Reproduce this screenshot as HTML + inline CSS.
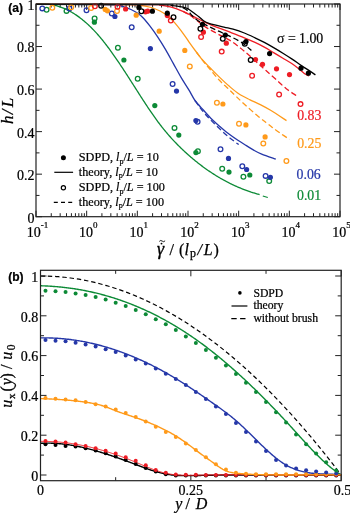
<!DOCTYPE html>
<html><head><meta charset="utf-8"><style>
html,body{margin:0;padding:0;background:#fff;width:350px;height:513px;overflow:hidden;font-family:"Liberation Serif",serif;}
svg{display:block;filter:blur(0.3px);}
</style></head><body>
<svg width="350" height="513" viewBox="0 0 350 513">
<rect width="350" height="513" fill="#fff"/>
<line x1="36" y1="216.7" x2="42" y2="216.7" stroke="#222222" stroke-width="1.0"/>
<line x1="340" y1="216.7" x2="334" y2="216.7" stroke="#222222" stroke-width="1.0"/>
<line x1="36" y1="195.43" x2="39.5" y2="195.43" stroke="#222222" stroke-width="1.0"/>
<line x1="340" y1="195.43" x2="336.5" y2="195.43" stroke="#222222" stroke-width="1.0"/>
<line x1="36" y1="174.16" x2="42" y2="174.16" stroke="#222222" stroke-width="1.0"/>
<line x1="340" y1="174.16" x2="334" y2="174.16" stroke="#222222" stroke-width="1.0"/>
<line x1="36" y1="152.89" x2="39.5" y2="152.89" stroke="#222222" stroke-width="1.0"/>
<line x1="340" y1="152.89" x2="336.5" y2="152.89" stroke="#222222" stroke-width="1.0"/>
<line x1="36" y1="131.62" x2="42" y2="131.62" stroke="#222222" stroke-width="1.0"/>
<line x1="340" y1="131.62" x2="334" y2="131.62" stroke="#222222" stroke-width="1.0"/>
<line x1="36" y1="110.35" x2="39.5" y2="110.35" stroke="#222222" stroke-width="1.0"/>
<line x1="340" y1="110.35" x2="336.5" y2="110.35" stroke="#222222" stroke-width="1.0"/>
<line x1="36" y1="89.08" x2="42" y2="89.08" stroke="#222222" stroke-width="1.0"/>
<line x1="340" y1="89.08" x2="334" y2="89.08" stroke="#222222" stroke-width="1.0"/>
<line x1="36" y1="67.81" x2="39.5" y2="67.81" stroke="#222222" stroke-width="1.0"/>
<line x1="340" y1="67.81" x2="336.5" y2="67.81" stroke="#222222" stroke-width="1.0"/>
<line x1="36" y1="46.54" x2="42" y2="46.54" stroke="#222222" stroke-width="1.0"/>
<line x1="340" y1="46.54" x2="334" y2="46.54" stroke="#222222" stroke-width="1.0"/>
<line x1="36" y1="25.27" x2="39.5" y2="25.27" stroke="#222222" stroke-width="1.0"/>
<line x1="340" y1="25.27" x2="336.5" y2="25.27" stroke="#222222" stroke-width="1.0"/>
<line x1="36" y1="4" x2="42" y2="4" stroke="#222222" stroke-width="1.0"/>
<line x1="340" y1="4" x2="334" y2="4" stroke="#222222" stroke-width="1.0"/>
<line x1="36" y1="216.7" x2="36" y2="210.7" stroke="#222222" stroke-width="1.0"/>
<line x1="36" y1="4" x2="36" y2="10" stroke="#222222" stroke-width="1.0"/>
<line x1="51.25" y1="216.7" x2="51.25" y2="213.2" stroke="#222222" stroke-width="1.0"/>
<line x1="51.25" y1="4" x2="51.25" y2="7.5" stroke="#222222" stroke-width="1.0"/>
<line x1="60.17" y1="216.7" x2="60.17" y2="213.2" stroke="#222222" stroke-width="1.0"/>
<line x1="60.17" y1="4" x2="60.17" y2="7.5" stroke="#222222" stroke-width="1.0"/>
<line x1="66.5" y1="216.7" x2="66.5" y2="213.2" stroke="#222222" stroke-width="1.0"/>
<line x1="66.5" y1="4" x2="66.5" y2="7.5" stroke="#222222" stroke-width="1.0"/>
<line x1="71.41" y1="216.7" x2="71.41" y2="213.2" stroke="#222222" stroke-width="1.0"/>
<line x1="71.41" y1="4" x2="71.41" y2="7.5" stroke="#222222" stroke-width="1.0"/>
<line x1="75.43" y1="216.7" x2="75.43" y2="213.2" stroke="#222222" stroke-width="1.0"/>
<line x1="75.43" y1="4" x2="75.43" y2="7.5" stroke="#222222" stroke-width="1.0"/>
<line x1="78.82" y1="216.7" x2="78.82" y2="213.2" stroke="#222222" stroke-width="1.0"/>
<line x1="78.82" y1="4" x2="78.82" y2="7.5" stroke="#222222" stroke-width="1.0"/>
<line x1="81.76" y1="216.7" x2="81.76" y2="213.2" stroke="#222222" stroke-width="1.0"/>
<line x1="81.76" y1="4" x2="81.76" y2="7.5" stroke="#222222" stroke-width="1.0"/>
<line x1="84.35" y1="216.7" x2="84.35" y2="213.2" stroke="#222222" stroke-width="1.0"/>
<line x1="84.35" y1="4" x2="84.35" y2="7.5" stroke="#222222" stroke-width="1.0"/>
<line x1="86.67" y1="216.7" x2="86.67" y2="210.7" stroke="#222222" stroke-width="1.0"/>
<line x1="86.67" y1="4" x2="86.67" y2="10" stroke="#222222" stroke-width="1.0"/>
<line x1="101.92" y1="216.7" x2="101.92" y2="213.2" stroke="#222222" stroke-width="1.0"/>
<line x1="101.92" y1="4" x2="101.92" y2="7.5" stroke="#222222" stroke-width="1.0"/>
<line x1="110.84" y1="216.7" x2="110.84" y2="213.2" stroke="#222222" stroke-width="1.0"/>
<line x1="110.84" y1="4" x2="110.84" y2="7.5" stroke="#222222" stroke-width="1.0"/>
<line x1="117.17" y1="216.7" x2="117.17" y2="213.2" stroke="#222222" stroke-width="1.0"/>
<line x1="117.17" y1="4" x2="117.17" y2="7.5" stroke="#222222" stroke-width="1.0"/>
<line x1="122.08" y1="216.7" x2="122.08" y2="213.2" stroke="#222222" stroke-width="1.0"/>
<line x1="122.08" y1="4" x2="122.08" y2="7.5" stroke="#222222" stroke-width="1.0"/>
<line x1="126.09" y1="216.7" x2="126.09" y2="213.2" stroke="#222222" stroke-width="1.0"/>
<line x1="126.09" y1="4" x2="126.09" y2="7.5" stroke="#222222" stroke-width="1.0"/>
<line x1="129.48" y1="216.7" x2="129.48" y2="213.2" stroke="#222222" stroke-width="1.0"/>
<line x1="129.48" y1="4" x2="129.48" y2="7.5" stroke="#222222" stroke-width="1.0"/>
<line x1="132.42" y1="216.7" x2="132.42" y2="213.2" stroke="#222222" stroke-width="1.0"/>
<line x1="132.42" y1="4" x2="132.42" y2="7.5" stroke="#222222" stroke-width="1.0"/>
<line x1="135.01" y1="216.7" x2="135.01" y2="213.2" stroke="#222222" stroke-width="1.0"/>
<line x1="135.01" y1="4" x2="135.01" y2="7.5" stroke="#222222" stroke-width="1.0"/>
<line x1="137.33" y1="216.7" x2="137.33" y2="210.7" stroke="#222222" stroke-width="1.0"/>
<line x1="137.33" y1="4" x2="137.33" y2="10" stroke="#222222" stroke-width="1.0"/>
<line x1="152.59" y1="216.7" x2="152.59" y2="213.2" stroke="#222222" stroke-width="1.0"/>
<line x1="152.59" y1="4" x2="152.59" y2="7.5" stroke="#222222" stroke-width="1.0"/>
<line x1="161.51" y1="216.7" x2="161.51" y2="213.2" stroke="#222222" stroke-width="1.0"/>
<line x1="161.51" y1="4" x2="161.51" y2="7.5" stroke="#222222" stroke-width="1.0"/>
<line x1="167.84" y1="216.7" x2="167.84" y2="213.2" stroke="#222222" stroke-width="1.0"/>
<line x1="167.84" y1="4" x2="167.84" y2="7.5" stroke="#222222" stroke-width="1.0"/>
<line x1="172.75" y1="216.7" x2="172.75" y2="213.2" stroke="#222222" stroke-width="1.0"/>
<line x1="172.75" y1="4" x2="172.75" y2="7.5" stroke="#222222" stroke-width="1.0"/>
<line x1="176.76" y1="216.7" x2="176.76" y2="213.2" stroke="#222222" stroke-width="1.0"/>
<line x1="176.76" y1="4" x2="176.76" y2="7.5" stroke="#222222" stroke-width="1.0"/>
<line x1="180.15" y1="216.7" x2="180.15" y2="213.2" stroke="#222222" stroke-width="1.0"/>
<line x1="180.15" y1="4" x2="180.15" y2="7.5" stroke="#222222" stroke-width="1.0"/>
<line x1="183.09" y1="216.7" x2="183.09" y2="213.2" stroke="#222222" stroke-width="1.0"/>
<line x1="183.09" y1="4" x2="183.09" y2="7.5" stroke="#222222" stroke-width="1.0"/>
<line x1="185.68" y1="216.7" x2="185.68" y2="213.2" stroke="#222222" stroke-width="1.0"/>
<line x1="185.68" y1="4" x2="185.68" y2="7.5" stroke="#222222" stroke-width="1.0"/>
<line x1="188" y1="216.7" x2="188" y2="210.7" stroke="#222222" stroke-width="1.0"/>
<line x1="188" y1="4" x2="188" y2="10" stroke="#222222" stroke-width="1.0"/>
<line x1="203.25" y1="216.7" x2="203.25" y2="213.2" stroke="#222222" stroke-width="1.0"/>
<line x1="203.25" y1="4" x2="203.25" y2="7.5" stroke="#222222" stroke-width="1.0"/>
<line x1="212.17" y1="216.7" x2="212.17" y2="213.2" stroke="#222222" stroke-width="1.0"/>
<line x1="212.17" y1="4" x2="212.17" y2="7.5" stroke="#222222" stroke-width="1.0"/>
<line x1="218.5" y1="216.7" x2="218.5" y2="213.2" stroke="#222222" stroke-width="1.0"/>
<line x1="218.5" y1="4" x2="218.5" y2="7.5" stroke="#222222" stroke-width="1.0"/>
<line x1="223.41" y1="216.7" x2="223.41" y2="213.2" stroke="#222222" stroke-width="1.0"/>
<line x1="223.41" y1="4" x2="223.41" y2="7.5" stroke="#222222" stroke-width="1.0"/>
<line x1="227.43" y1="216.7" x2="227.43" y2="213.2" stroke="#222222" stroke-width="1.0"/>
<line x1="227.43" y1="4" x2="227.43" y2="7.5" stroke="#222222" stroke-width="1.0"/>
<line x1="230.82" y1="216.7" x2="230.82" y2="213.2" stroke="#222222" stroke-width="1.0"/>
<line x1="230.82" y1="4" x2="230.82" y2="7.5" stroke="#222222" stroke-width="1.0"/>
<line x1="233.76" y1="216.7" x2="233.76" y2="213.2" stroke="#222222" stroke-width="1.0"/>
<line x1="233.76" y1="4" x2="233.76" y2="7.5" stroke="#222222" stroke-width="1.0"/>
<line x1="236.35" y1="216.7" x2="236.35" y2="213.2" stroke="#222222" stroke-width="1.0"/>
<line x1="236.35" y1="4" x2="236.35" y2="7.5" stroke="#222222" stroke-width="1.0"/>
<line x1="238.67" y1="216.7" x2="238.67" y2="210.7" stroke="#222222" stroke-width="1.0"/>
<line x1="238.67" y1="4" x2="238.67" y2="10" stroke="#222222" stroke-width="1.0"/>
<line x1="253.92" y1="216.7" x2="253.92" y2="213.2" stroke="#222222" stroke-width="1.0"/>
<line x1="253.92" y1="4" x2="253.92" y2="7.5" stroke="#222222" stroke-width="1.0"/>
<line x1="262.84" y1="216.7" x2="262.84" y2="213.2" stroke="#222222" stroke-width="1.0"/>
<line x1="262.84" y1="4" x2="262.84" y2="7.5" stroke="#222222" stroke-width="1.0"/>
<line x1="269.17" y1="216.7" x2="269.17" y2="213.2" stroke="#222222" stroke-width="1.0"/>
<line x1="269.17" y1="4" x2="269.17" y2="7.5" stroke="#222222" stroke-width="1.0"/>
<line x1="274.08" y1="216.7" x2="274.08" y2="213.2" stroke="#222222" stroke-width="1.0"/>
<line x1="274.08" y1="4" x2="274.08" y2="7.5" stroke="#222222" stroke-width="1.0"/>
<line x1="278.09" y1="216.7" x2="278.09" y2="213.2" stroke="#222222" stroke-width="1.0"/>
<line x1="278.09" y1="4" x2="278.09" y2="7.5" stroke="#222222" stroke-width="1.0"/>
<line x1="281.48" y1="216.7" x2="281.48" y2="213.2" stroke="#222222" stroke-width="1.0"/>
<line x1="281.48" y1="4" x2="281.48" y2="7.5" stroke="#222222" stroke-width="1.0"/>
<line x1="284.42" y1="216.7" x2="284.42" y2="213.2" stroke="#222222" stroke-width="1.0"/>
<line x1="284.42" y1="4" x2="284.42" y2="7.5" stroke="#222222" stroke-width="1.0"/>
<line x1="287.01" y1="216.7" x2="287.01" y2="213.2" stroke="#222222" stroke-width="1.0"/>
<line x1="287.01" y1="4" x2="287.01" y2="7.5" stroke="#222222" stroke-width="1.0"/>
<line x1="289.33" y1="216.7" x2="289.33" y2="210.7" stroke="#222222" stroke-width="1.0"/>
<line x1="289.33" y1="4" x2="289.33" y2="10" stroke="#222222" stroke-width="1.0"/>
<line x1="304.59" y1="216.7" x2="304.59" y2="213.2" stroke="#222222" stroke-width="1.0"/>
<line x1="304.59" y1="4" x2="304.59" y2="7.5" stroke="#222222" stroke-width="1.0"/>
<line x1="313.51" y1="216.7" x2="313.51" y2="213.2" stroke="#222222" stroke-width="1.0"/>
<line x1="313.51" y1="4" x2="313.51" y2="7.5" stroke="#222222" stroke-width="1.0"/>
<line x1="319.84" y1="216.7" x2="319.84" y2="213.2" stroke="#222222" stroke-width="1.0"/>
<line x1="319.84" y1="4" x2="319.84" y2="7.5" stroke="#222222" stroke-width="1.0"/>
<line x1="324.75" y1="216.7" x2="324.75" y2="213.2" stroke="#222222" stroke-width="1.0"/>
<line x1="324.75" y1="4" x2="324.75" y2="7.5" stroke="#222222" stroke-width="1.0"/>
<line x1="328.76" y1="216.7" x2="328.76" y2="213.2" stroke="#222222" stroke-width="1.0"/>
<line x1="328.76" y1="4" x2="328.76" y2="7.5" stroke="#222222" stroke-width="1.0"/>
<line x1="332.15" y1="216.7" x2="332.15" y2="213.2" stroke="#222222" stroke-width="1.0"/>
<line x1="332.15" y1="4" x2="332.15" y2="7.5" stroke="#222222" stroke-width="1.0"/>
<line x1="335.09" y1="216.7" x2="335.09" y2="213.2" stroke="#222222" stroke-width="1.0"/>
<line x1="335.09" y1="4" x2="335.09" y2="7.5" stroke="#222222" stroke-width="1.0"/>
<line x1="337.68" y1="216.7" x2="337.68" y2="213.2" stroke="#222222" stroke-width="1.0"/>
<line x1="337.68" y1="4" x2="337.68" y2="7.5" stroke="#222222" stroke-width="1.0"/>
<line x1="340" y1="216.7" x2="340" y2="210.7" stroke="#222222" stroke-width="1.0"/>
<line x1="340" y1="4" x2="340" y2="10" stroke="#222222" stroke-width="1.0"/>
<path d="M36,4.4 L36.7,4.31 L37.4,4.23 L38.1,4.16 L38.8,4.1 L39.5,4.05 L40.21,4 L40.91,3.97 L41.61,3.95 L42.31,3.93 L43.01,3.93 L43.71,3.94 L44.41,3.95 L45.11,3.98 L45.81,4.01 L46.51,4.06 L47.22,4.11 L47.92,4.18 L48.62,4.25 L49.32,4.34 L50.02,4.43 L50.72,4.53 L51.42,4.65 L52.12,4.77 L52.82,4.9 L53.52,5.05 L54.22,5.2 L54.93,5.36 L55.63,5.54 L56.33,5.72 L57.03,5.91 L57.73,6.12 L58.43,6.33 L59.13,6.55 L59.83,6.78 L60.53,7.03 L61.23,7.28 L61.93,7.54 L62.64,7.81 L63.34,8.1 L64.04,8.39 L64.74,8.69 L65.44,9 L66.14,9.33 L66.84,9.66 L67.54,10 L68.24,10.36 L68.94,10.72 L69.65,11.09 L70.35,11.48 L71.05,11.87 L71.75,12.27 L72.45,12.69 L73.15,13.11 L73.85,13.55 L74.55,13.99 L75.25,14.44 L75.95,14.91 L76.65,15.39 L77.36,15.87 L78.06,16.37 L78.76,16.87 L79.46,17.39 L80.16,17.92 L80.86,18.45 L81.56,19 L82.26,19.56 L82.96,20.13 L83.66,20.7 L84.36,21.29 L85.07,21.89 L85.77,22.5 L86.47,23.12 L87.17,23.75 L87.87,24.39 L88.57,25.04 L89.27,25.71 L89.97,26.38 L90.67,27.06 L91.37,27.75 L92.08,28.46 L92.78,29.17 L93.48,29.9 L94.18,30.63 L94.88,31.38 L95.58,32.13 L96.28,32.9 L96.98,33.68 L97.68,34.46 L98.38,35.26 L99.08,36.07 L99.79,36.89 L100.49,37.72 L101.19,38.56 L101.89,39.41 L102.59,40.28 L103.29,41.15 L103.99,42.03 L104.69,42.92 L105.39,43.82 L106.09,44.73 L106.79,45.65 L107.5,46.57 L108.2,47.51 L108.9,48.45 L109.6,49.4 L110.3,50.36 L111,51.33 L111.7,52.3 L112.4,53.28 L113.1,54.27 L113.8,55.27 L114.51,56.27 L115.21,57.28 L115.91,58.29 L116.61,59.31 L117.31,60.34 L118.01,61.37 L118.71,62.41 L119.41,63.45 L120.11,64.49 L120.81,65.55 L121.51,66.6 L122.22,67.66 L122.92,68.72 L123.62,69.79 L124.32,70.86 L125.02,71.94 L125.72,73.02 L126.42,74.1 L127.12,75.18 L127.82,76.27 L128.52,77.35 L129.23,78.45 L129.93,79.54 L130.63,80.63 L131.33,81.73 L132.03,82.82 L132.73,83.92 L133.43,85.02 L134.13,86.12 L134.83,87.22 L135.53,88.32 L136.23,89.42 L136.94,90.52 L137.64,91.62 L138.34,92.71 L139.04,93.81 L139.74,94.9 L140.44,95.99 L141.14,97.08 L141.84,98.17 L142.54,99.25 L143.24,100.33 L143.94,101.41 L144.65,102.48 L145.35,103.55 L146.05,104.62 L146.75,105.68 L147.45,106.74 L148.15,107.79 L148.85,108.83 L149.55,109.87 L150.25,110.91 L150.95,111.93 L151.66,112.95 L152.36,113.97 L153.06,114.97 L153.76,115.97 L154.46,116.97 L155.16,117.95 L155.86,118.93 L156.56,119.89 L157.26,120.85 L157.96,121.8 L158.66,122.74 L159.37,123.67 L160.07,124.59 L160.77,125.5 L161.47,126.4 L162.17,127.29 L162.87,128.17 L163.57,129.04 L164.27,129.91 L164.97,130.76 L165.67,131.61 L166.37,132.44 L167.08,133.27 L167.78,134.09 L168.48,134.9 L169.18,135.7 L169.88,136.5 L170.58,137.28 L171.28,138.06 L171.98,138.83 L172.68,139.6 L173.38,140.35 L174.09,141.1 L174.79,141.84 L175.49,142.57 L176.19,143.3 L176.89,144.02 L177.59,144.73 L178.29,145.44 L178.99,146.14 L179.69,146.83 L180.39,147.52 L181.09,148.2 L181.8,148.87 L182.5,149.54 L183.2,150.21 L183.9,150.86 L184.6,151.52 L185.3,152.16 L186,152.81 L186.7,153.44 L187.4,154.07 L188.1,154.7 L188.81,155.32 L189.51,155.93 L190.21,156.54 L190.91,157.15 L191.61,157.75 L192.31,158.34 L193.01,158.93 L193.71,159.52 L194.41,160.1 L195.11,160.67 L195.81,161.24 L196.52,161.8 L197.22,162.36 L197.92,162.92 L198.62,163.47 L199.32,164.01 L200.02,164.55 L200.72,165.08 L201.42,165.62 L202.12,166.14 L202.82,166.66 L203.52,167.18 L204.23,167.69 L204.93,168.19 L205.63,168.7 L206.33,169.19 L207.03,169.69 L207.73,170.17 L208.43,170.66 L209.13,171.14 L209.83,171.61 L210.53,172.08 L211.24,172.54 L211.94,173.01 L212.64,173.46 L213.34,173.91 L214.04,174.36 L214.74,174.8 L215.44,175.24 L216.14,175.68 L216.84,176.11 L217.54,176.53 L218.24,176.95 L218.95,177.37 L219.65,177.78 L220.35,178.19 L221.05,178.6 L221.75,179 L222.45,179.39 L223.15,179.78 L223.85,180.17 L224.55,180.55 L225.25,180.93 L225.95,181.3 L226.66,181.67 L227.36,182.04 L228.06,182.4 L228.76,182.76 L229.46,183.11 L230.16,183.46 L230.86,183.81 L231.56,184.15 L232.26,184.49 L232.96,184.82 L233.67,185.15 L234.37,185.47 L235.07,185.79 L235.77,186.11 L236.47,186.42 L237.17,186.73 L237.87,187.04 L238.57,187.34 L239.27,187.64 L239.97,187.93 L240.67,188.22 L241.38,188.5 L242.08,188.78 L242.78,189.06 L243.48,189.34 L244.18,189.61 L244.88,189.87 L245.58,190.13 L246.28,190.39 L246.98,190.65 L247.68,190.9 L248.38,191.14 L249.09,191.39 L249.79,191.63 L250.49,191.86 L251.19,192.1 L251.89,192.32 L252.59,192.55 L253.29,192.77 L253.99,192.99 L254.69,193.2 L255.39,193.41 L256.1,193.62 L256.8,193.82 L257.5,194.02 L258.2,194.22 L258.9,194.41 L259.6,194.6" fill="none" stroke="#0c8a36" stroke-width="1.3" stroke-linejoin="round"/>
<path d="M262.8,196 C263.63,196.25 266.97,197.25 267.8,197.5" fill="none" stroke="#0c8a36" stroke-width="1.3" stroke-linejoin="round"/>
<path d="M36,4.4 C47.5,4.42 91.5,4.4 105,4.5 C118.5,4.6 113.83,4.62 117,5 C120.17,5.38 121.67,6.05 124,6.8 C126.33,7.55 128.83,8.5 131,9.5 C133.17,10.5 135,11.42 137,12.8 C139,14.18 140.83,15.57 143,17.8 C145.17,20.03 147.53,22.98 150,26.2 C152.47,29.42 155.2,33.2 157.8,37.1 C160.4,41 163,45.18 165.6,49.6 C168.2,54.02 170.8,58.93 173.4,63.6 C176,68.27 178.6,73.18 181.2,77.6 C183.8,82.02 186.7,86.28 189,90.1 C191.3,93.92 192.57,97.13 195,100.5 C197.43,103.87 200.75,107.13 203.6,110.3 C206.45,113.47 209.25,116.68 212.1,119.5 C214.95,122.32 217.83,124.73 220.7,127.2 C223.57,129.67 226.43,132.12 229.3,134.3 C232.17,136.48 235.05,138.42 237.9,140.3 C240.75,142.18 243.7,143.92 246.4,145.6 C249.1,147.28 251.55,148.98 254.1,150.4 C256.65,151.82 258.08,152.63 261.7,154.1 C265.32,155.57 273.45,158.35 275.8,159.2" fill="none" stroke="#2537a8" stroke-width="1.3" stroke-linejoin="round"/>
<path d="M195,100.5 C195.83,101.67 198.28,105.22 200,107.5 C201.72,109.78 203.28,111.88 205.3,114.2 C207.32,116.52 209.53,118.8 212.1,121.4 C214.67,124 217.83,127.12 220.7,129.8 C223.57,132.48 226.3,135.03 229.3,137.5 C232.3,139.97 237.13,143.42 238.7,144.6" fill="none" stroke="#2537a8" stroke-width="1.3" stroke-dasharray="5.5,3" stroke-linejoin="round"/>
<path d="M36,4.4 C51.33,4.42 110.6,4.35 128,4.5 C145.4,4.65 136.48,4.8 140.4,5.3 C144.32,5.8 148.23,6.55 151.5,7.5 C154.77,8.45 157.58,9.78 160,11 C162.42,12.22 163.77,13.07 166,14.8 C168.23,16.53 170.87,18.72 173.4,21.4 C175.93,24.08 178.62,27.5 181.2,30.9 C183.78,34.3 186.32,38.2 188.9,41.8 C191.48,45.4 194.47,49.5 196.7,52.5 C198.93,55.5 200.08,57.27 202.3,59.8 C204.52,62.33 207.15,64.82 210,67.7 C212.85,70.58 216.12,73.95 219.4,77.1 C222.68,80.25 226.42,83.78 229.7,86.6 C232.98,89.42 235.72,91.8 239.1,94 C242.48,96.2 246.47,98.03 250,99.8 C253.53,101.57 256.87,102.85 260.3,104.6 C263.73,106.35 266.23,107.63 270.6,110.3 C274.97,112.97 283.85,118.88 286.5,120.6" fill="none" stroke="#ff9a1a" stroke-width="1.3" stroke-linejoin="round"/>
<path d="M196.7,52.5 C197.97,54.17 201.93,59.53 204.3,62.5 C206.67,65.47 208.38,67.33 210.9,70.3 C213.42,73.27 216.55,77.27 219.4,80.3 C222.25,83.33 225.13,85.73 228,88.5 C230.87,91.27 233.5,93.95 236.6,96.9 C239.7,99.85 243.12,103.05 246.6,106.2 C250.08,109.35 254.27,113.08 257.5,115.8 C260.73,118.52 263.53,120.57 266,122.5 C268.47,124.43 269.97,125.65 272.3,127.4 C274.63,129.15 277.15,131 280,133 C282.85,135 287.83,138.33 289.4,139.4" fill="none" stroke="#ff9a1a" stroke-width="1.3" stroke-dasharray="5.5,3" stroke-linejoin="round"/>
<path d="M36,4.4 C55,4.42 129.33,4.37 150,4.5 C170.67,4.63 156.43,4.75 160,5.2 C163.57,5.65 167.58,6.18 171.4,7.2 C175.22,8.22 179.08,9.68 182.9,11.3 C186.72,12.92 190.5,15.02 194.3,16.9 C198.1,18.78 201.9,20.87 205.7,22.6 C209.5,24.33 213.05,25.7 217.1,27.3 C221.15,28.9 225.47,30.45 230,32.2 C234.53,33.95 240.13,36.1 244.3,37.8 C248.47,39.5 251.67,40.85 255,42.4 C258.33,43.95 261.2,45.4 264.3,47.1 C267.4,48.8 270.5,50.75 273.6,52.6 C276.7,54.45 279.82,56.33 282.9,58.2 C285.98,60.07 289.32,61.93 292.1,63.8 C294.88,65.67 297.43,67.7 299.6,69.4 C301.77,71.1 303.53,72.92 305.1,74 C306.67,75.08 308.35,75.58 309,75.9" fill="none" stroke="#ee1c24" stroke-width="1.3" stroke-linejoin="round"/>
<path d="M182.9,11.3 C184.08,11.97 187.72,13.8 190,15.3 C192.28,16.8 193.98,18.33 196.6,20.3 C199.22,22.27 202.28,24.88 205.7,27.1 C209.12,29.32 213.05,31.38 217.1,33.6 C221.15,35.82 225.47,37.47 230,40.4 C234.53,43.33 239.53,47.27 244.3,51.2 C249.07,55.13 254.98,60.78 258.6,64 C262.22,67.22 263.18,68 266,70.5 C268.82,73 272.17,76 275.5,79 C278.83,82 282.5,85.72 286,88.5 C289.5,91.28 294.75,94.5 296.5,95.7" fill="none" stroke="#ee1c24" stroke-width="1.3" stroke-dasharray="5.5,3" stroke-linejoin="round"/>
<path d="M36,4.4 C56.67,4.45 137.43,4.55 160,4.7 C182.57,4.85 167.58,4.9 171.4,5.3 C175.22,5.7 180.13,6.52 182.9,7.1 C185.67,7.68 186.1,7.77 188,8.8 C189.9,9.83 192.48,11.98 194.3,13.3 C196.12,14.62 197.23,15.37 198.9,16.7 C200.57,18.03 202.5,20.15 204.3,21.3 C206.1,22.45 206.42,22.63 209.7,23.6 C212.98,24.57 220.1,26.17 224,27.1 C227.9,28.03 229.72,28.22 233.1,29.2 C236.48,30.18 240.65,31.57 244.3,33 C247.95,34.43 251.67,36.23 255,37.8 C258.33,39.37 261.2,40.77 264.3,42.4 C267.4,44.03 270.5,45.8 273.6,47.6 C276.7,49.4 279.82,51.28 282.9,53.2 C285.98,55.12 289.02,57.03 292.1,59.1 C295.18,61.17 298.3,63.52 301.4,65.6 C304.5,67.68 308.37,70.05 310.7,71.6 C313.03,73.15 314.62,74.35 315.4,74.9" fill="none" stroke="#000000" stroke-width="1.3" stroke-linejoin="round"/>
<path d="M182.9,7.7 C183.75,8.25 186.48,9.7 188,11 C189.52,12.3 190.5,14 192,15.5 C193.5,17 194.72,18.43 197,20 C199.28,21.57 202.35,23.15 205.7,24.9 C209.05,26.65 213.28,28.72 217.1,30.5 C220.92,32.28 225.02,33.9 228.6,35.6 C232.18,37.3 235.98,39.25 238.6,40.7 C241.22,42.15 242.17,42.67 244.3,44.3 C246.43,45.93 250.22,49.47 251.4,50.5" fill="none" stroke="#000000" stroke-width="1.3" stroke-dasharray="5.5,3" stroke-linejoin="round"/>
<circle cx="46.6" cy="9.7" r="2.35" fill="none" stroke="#0c8a36" stroke-width="1.3"/>
<circle cx="66.5" cy="10.9" r="2.35" fill="none" stroke="#0c8a36" stroke-width="1.3"/>
<circle cx="94.6" cy="18.4" r="2.35" fill="none" stroke="#0c8a36" stroke-width="1.3"/>
<circle cx="94.4" cy="22.2" r="2.6" fill="#0c8a36"/>
<circle cx="117.9" cy="47.7" r="2.35" fill="none" stroke="#0c8a36" stroke-width="1.3"/>
<circle cx="123.9" cy="60" r="2.6" fill="#0c8a36"/>
<circle cx="137.7" cy="78.8" r="2.35" fill="none" stroke="#0c8a36" stroke-width="1.3"/>
<circle cx="154.8" cy="105.6" r="2.6" fill="#0c8a36"/>
<circle cx="174.5" cy="127.9" r="2.35" fill="none" stroke="#0c8a36" stroke-width="1.3"/>
<circle cx="178.8" cy="135.1" r="2.6" fill="#0c8a36"/>
<circle cx="197.9" cy="151.2" r="2.35" fill="none" stroke="#0c8a36" stroke-width="1.3"/>
<circle cx="195.9" cy="152.6" r="2.6" fill="#0c8a36"/>
<circle cx="222.2" cy="168.7" r="2.35" fill="none" stroke="#0c8a36" stroke-width="1.3"/>
<circle cx="229" cy="172.1" r="2.6" fill="#0c8a36"/>
<circle cx="243.4" cy="176.7" r="2.35" fill="none" stroke="#0c8a36" stroke-width="1.3"/>
<circle cx="249.8" cy="175" r="2.6" fill="#0c8a36"/>
<circle cx="269.2" cy="181.1" r="2.35" fill="none" stroke="#0c8a36" stroke-width="1.3"/>
<circle cx="42.3" cy="8.4" r="2.35" fill="none" stroke="#2537a8" stroke-width="1.3"/>
<circle cx="69.4" cy="8.4" r="2.35" fill="none" stroke="#2537a8" stroke-width="1.3"/>
<circle cx="86.5" cy="10.3" r="2.35" fill="none" stroke="#2537a8" stroke-width="1.3"/>
<circle cx="111.8" cy="13.5" r="2.35" fill="none" stroke="#2537a8" stroke-width="1.3"/>
<circle cx="114.9" cy="16.5" r="2.6" fill="#2537a8"/>
<circle cx="131.7" cy="27.3" r="2.35" fill="none" stroke="#2537a8" stroke-width="1.3"/>
<circle cx="150.4" cy="48.6" r="2.6" fill="#2537a8"/>
<circle cx="172.6" cy="84" r="2.35" fill="none" stroke="#2537a8" stroke-width="1.3"/>
<circle cx="176.5" cy="91.1" r="2.6" fill="#2537a8"/>
<circle cx="195.9" cy="120.5" r="2.6" fill="#2537a8"/>
<circle cx="197.6" cy="121.8" r="2.35" fill="none" stroke="#2537a8" stroke-width="1.3"/>
<circle cx="220.5" cy="149.2" r="2.35" fill="none" stroke="#2537a8" stroke-width="1.3"/>
<circle cx="228.5" cy="158.4" r="2.6" fill="#2537a8"/>
<circle cx="242.3" cy="166.2" r="2.35" fill="none" stroke="#2537a8" stroke-width="1.3"/>
<circle cx="246.6" cy="169.5" r="2.6" fill="#2537a8"/>
<circle cx="265.6" cy="175.9" r="2.35" fill="none" stroke="#2537a8" stroke-width="1.3"/>
<circle cx="270.4" cy="177.3" r="2.6" fill="#2537a8"/>
<circle cx="52.3" cy="7.8" r="2.35" fill="none" stroke="#ff9a1a" stroke-width="1.3"/>
<circle cx="71.2" cy="7.2" r="2.35" fill="none" stroke="#ff9a1a" stroke-width="1.3"/>
<circle cx="91.1" cy="8" r="2.35" fill="none" stroke="#ff9a1a" stroke-width="1.3"/>
<circle cx="105.2" cy="9.4" r="2.6" fill="#ff9a1a"/>
<circle cx="107.4" cy="10.8" r="2.6" fill="#ff9a1a"/>
<circle cx="117" cy="11" r="2.35" fill="none" stroke="#ff9a1a" stroke-width="1.3"/>
<circle cx="136.2" cy="15.2" r="2.6" fill="#ff9a1a"/>
<circle cx="159.2" cy="31.2" r="2.6" fill="#ff9a1a"/>
<circle cx="184.8" cy="50.4" r="2.6" fill="#ff9a1a"/>
<circle cx="189.8" cy="66.4" r="2.35" fill="none" stroke="#ff9a1a" stroke-width="1.3"/>
<circle cx="216.9" cy="102.8" r="2.35" fill="none" stroke="#ff9a1a" stroke-width="1.3"/>
<circle cx="222.9" cy="104" r="2.6" fill="#ff9a1a"/>
<circle cx="239" cy="123.8" r="2.35" fill="none" stroke="#ff9a1a" stroke-width="1.3"/>
<circle cx="245.9" cy="124.9" r="2.6" fill="#ff9a1a"/>
<circle cx="265.1" cy="136.9" r="2.6" fill="#ff9a1a"/>
<circle cx="263.3" cy="143.5" r="2.35" fill="none" stroke="#ff9a1a" stroke-width="1.3"/>
<circle cx="286.4" cy="161" r="2.35" fill="none" stroke="#ff9a1a" stroke-width="1.3"/>
<circle cx="94.9" cy="6.2" r="2.35" fill="none" stroke="#ee1c24" stroke-width="1.3"/>
<circle cx="117.5" cy="6.8" r="2.35" fill="none" stroke="#ee1c24" stroke-width="1.3"/>
<circle cx="125.6" cy="9" r="2.6" fill="#ee1c24"/>
<circle cx="145.5" cy="11.8" r="2.6" fill="#ee1c24"/>
<circle cx="147.7" cy="11.2" r="2.6" fill="#ee1c24"/>
<circle cx="167.3" cy="15.6" r="2.6" fill="#ee1c24"/>
<circle cx="170.8" cy="20.6" r="2.35" fill="none" stroke="#ee1c24" stroke-width="1.3"/>
<circle cx="203.4" cy="32.2" r="2.6" fill="#ee1c24"/>
<circle cx="201.1" cy="37" r="2.35" fill="none" stroke="#ee1c24" stroke-width="1.3"/>
<circle cx="226.3" cy="43.2" r="2.6" fill="#ee1c24"/>
<circle cx="221.7" cy="51.6" r="2.35" fill="none" stroke="#ee1c24" stroke-width="1.3"/>
<circle cx="255.5" cy="59.5" r="2.6" fill="#ee1c24"/>
<circle cx="262.5" cy="64.3" r="2.6" fill="#ee1c24"/>
<circle cx="252.1" cy="75.8" r="2.35" fill="none" stroke="#ee1c24" stroke-width="1.3"/>
<circle cx="276.5" cy="68.8" r="2.6" fill="#ee1c24"/>
<circle cx="279.1" cy="94.5" r="2.35" fill="none" stroke="#ee1c24" stroke-width="1.3"/>
<circle cx="289.5" cy="74.6" r="2.6" fill="#ee1c24"/>
<circle cx="300.5" cy="104.1" r="2.35" fill="none" stroke="#ee1c24" stroke-width="1.3"/>
<circle cx="101.1" cy="5.8" r="2.35" fill="none" stroke="#000000" stroke-width="1.3"/>
<circle cx="139" cy="7.3" r="2.6" fill="#000000"/>
<circle cx="141.4" cy="11.2" r="2.35" fill="none" stroke="#000000" stroke-width="1.3"/>
<circle cx="152.4" cy="11.2" r="2.6" fill="#000000"/>
<circle cx="167.3" cy="13.2" r="2.6" fill="#000000"/>
<circle cx="173.5" cy="17.2" r="2.35" fill="none" stroke="#000000" stroke-width="1.3"/>
<circle cx="202.5" cy="24.3" r="2.6" fill="#000000"/>
<circle cx="200.4" cy="28.8" r="2.35" fill="none" stroke="#000000" stroke-width="1.3"/>
<circle cx="225.3" cy="35" r="2.6" fill="#000000"/>
<circle cx="222.8" cy="38.7" r="2.35" fill="none" stroke="#000000" stroke-width="1.3"/>
<circle cx="244.8" cy="43.8" r="2.35" fill="none" stroke="#000000" stroke-width="1.3"/>
<circle cx="246" cy="41.5" r="2.6" fill="#000000"/>
<circle cx="250.7" cy="60" r="2.35" fill="none" stroke="#000000" stroke-width="1.3"/>
<circle cx="269.6" cy="53.6" r="2.6" fill="#000000"/>
<circle cx="301" cy="68.2" r="2.6" fill="#000000"/>
<circle cx="308.4" cy="73.2" r="2.6" fill="#000000"/>
<rect x="36.0" y="4.0" width="304.0" height="212.7" fill="none" stroke="#222222" stroke-width="1.2"/>
<text x="34.6" y="222.6" font-size="14" text-anchor="end" fill="#000" font-family='"Liberation Serif", serif' stroke="#000" stroke-width="0.22">0</text>
<text x="34.6" y="180.06" font-size="14" text-anchor="end" fill="#000" font-family='"Liberation Serif", serif' stroke="#000" stroke-width="0.22">0.2</text>
<text x="34.6" y="137.52" font-size="14" text-anchor="end" fill="#000" font-family='"Liberation Serif", serif' stroke="#000" stroke-width="0.22">0.4</text>
<text x="34.6" y="94.98" font-size="14" text-anchor="end" fill="#000" font-family='"Liberation Serif", serif' stroke="#000" stroke-width="0.22">0.6</text>
<text x="34.6" y="52.44" font-size="14" text-anchor="end" fill="#000" font-family='"Liberation Serif", serif' stroke="#000" stroke-width="0.22">0.8</text>
<text x="34.6" y="9.9" font-size="14" text-anchor="end" fill="#000" font-family='"Liberation Serif", serif' stroke="#000" stroke-width="0.22">1</text>
<text x="37.5" y="236.8" font-size="14" text-anchor="middle" font-family='"Liberation Serif", serif' stroke="#000" stroke-width="0.22">10<tspan font-size="9" dy="-9.3">-1</tspan></text>
<text x="88.17" y="236.8" font-size="14" text-anchor="middle" font-family='"Liberation Serif", serif' stroke="#000" stroke-width="0.22">10<tspan font-size="9" dy="-9.3">0</tspan></text>
<text x="138.83" y="236.8" font-size="14" text-anchor="middle" font-family='"Liberation Serif", serif' stroke="#000" stroke-width="0.22">10<tspan font-size="9" dy="-9.3">1</tspan></text>
<text x="189.5" y="236.8" font-size="14" text-anchor="middle" font-family='"Liberation Serif", serif' stroke="#000" stroke-width="0.22">10<tspan font-size="9" dy="-9.3">2</tspan></text>
<text x="240.17" y="236.8" font-size="14" text-anchor="middle" font-family='"Liberation Serif", serif' stroke="#000" stroke-width="0.22">10<tspan font-size="9" dy="-9.3">3</tspan></text>
<text x="290.83" y="236.8" font-size="14" text-anchor="middle" font-family='"Liberation Serif", serif' stroke="#000" stroke-width="0.22">10<tspan font-size="9" dy="-9.3">4</tspan></text>
<text x="341.5" y="236.8" font-size="14" text-anchor="middle" font-family='"Liberation Serif", serif' stroke="#000" stroke-width="0.22">10<tspan font-size="9" dy="-9.3">5</tspan></text>
<text x="277" y="43.2" font-size="13.8" text-anchor="start" fill="#000" font-family='"Liberation Serif", serif' stroke="#000" stroke-width="0.22">&#963; = 1.00</text>
<text x="297.2" y="120.3" font-size="13.8" text-anchor="start" fill="#ee1c24" font-family='"Liberation Serif", serif' stroke="#ee1c24" stroke-width="0.22">0.83</text>
<text x="297.2" y="148.2" font-size="13.8" text-anchor="start" fill="#ff9a1a" font-family='"Liberation Serif", serif' stroke="#ff9a1a" stroke-width="0.22">0.25</text>
<text x="296.6" y="179.4" font-size="13.8" text-anchor="start" fill="#2537a8" font-family='"Liberation Serif", serif' stroke="#2537a8" stroke-width="0.22">0.06</text>
<text x="297" y="200.3" font-size="13.8" text-anchor="start" fill="#0c8a36" font-family='"Liberation Serif", serif' stroke="#0c8a36" stroke-width="0.22">0.01</text>
<circle cx="63.4" cy="157.7" r="2.5" fill="#000000"/>
<line x1="54.3" y1="172.3" x2="73.1" y2="172.3" stroke="#000000" stroke-width="1.2"/>
<circle cx="63.4" cy="187.7" r="2.1" fill="none" stroke="#000000" stroke-width="1.2"/>
<line x1="53.8" y1="202.3" x2="73.3" y2="202.3" stroke="#000" stroke-width="1.2" stroke-dasharray="4,3.2"/>
<text x="78.8" y="161.3" font-size="12.2" text-anchor="start" fill="#000" font-family='"Liberation Serif", serif' stroke="#000" stroke-width="0.22">SDPD, <tspan font-style="italic">l</tspan><tspan font-size="8" dy="2.5">p</tspan><tspan dy="-2.5">/</tspan><tspan font-style="italic">L</tspan> = 10</text>
<text x="78.8" y="175.8" font-size="12.2" text-anchor="start" fill="#000" font-family='"Liberation Serif", serif' stroke="#000" stroke-width="0.22">theory, <tspan font-style="italic">l</tspan><tspan font-size="8" dy="2.5">p</tspan><tspan dy="-2.5">/</tspan><tspan font-style="italic">L</tspan> = 10</text>
<text x="78.8" y="191.3" font-size="12.2" text-anchor="start" fill="#000" font-family='"Liberation Serif", serif' stroke="#000" stroke-width="0.22">SDPD, <tspan font-style="italic">l</tspan><tspan font-size="8" dy="2.5">p</tspan><tspan dy="-2.5">/</tspan><tspan font-style="italic">L</tspan> = 100</text>
<text x="78.8" y="205.8" font-size="12.2" text-anchor="start" fill="#000" font-family='"Liberation Serif", serif' stroke="#000" stroke-width="0.22">theory, <tspan font-style="italic">l</tspan><tspan font-size="8" dy="2.5">p</tspan><tspan dy="-2.5">/</tspan><tspan font-style="italic">L</tspan> = 100</text>
<text transform="translate(12.6,124) rotate(-90)" font-size="17" font-family='"Liberation Serif", serif' font-style="italic" stroke="#000" stroke-width="0.25"><tspan x="0" y="0">h</tspan><tspan x="9.8">/</tspan><tspan x="16.8">L</tspan></text>
<text x="157" y="254.5" font-size="18" font-style="italic" font-family='"Liberation Serif", serif' stroke="#000" stroke-width="0.35">&#947;</text>
<circle cx="161.5" cy="243.6" r="0.95" fill="#000"/>
<path d="M159.3,241.4 q1.4,-1.7 2.9,-0.3 t2.9,-0.3" fill="none" stroke="#000" stroke-width="0.9"/>
<text y="254.5" font-size="16" font-family='"Liberation Serif", serif' stroke="#000" stroke-width="0.25"><tspan x="169.4">/</tspan><tspan x="178.9">(</tspan><tspan x="184.4" font-style="italic">l</tspan><tspan x="190" y="257" font-size="12">p</tspan><tspan x="197.4" y="254.5" font-style="italic">/</tspan><tspan x="203.7" font-style="italic">L</tspan><tspan x="213.5">)</tspan></text>
<text x="8.3" y="12.4" font-size="12" text-anchor="start" fill="#000" font-family='"Liberation Sans", sans-serif' stroke="#000" stroke-width="0.22" font-weight="bold">(a)</text>
<line x1="40.5" y1="475" x2="46.5" y2="475" stroke="#222222" stroke-width="1.0"/>
<line x1="341.2" y1="475" x2="335.2" y2="475" stroke="#222222" stroke-width="1.0"/>
<line x1="40.5" y1="455.1" x2="44" y2="455.1" stroke="#222222" stroke-width="1.0"/>
<line x1="341.2" y1="455.1" x2="337.7" y2="455.1" stroke="#222222" stroke-width="1.0"/>
<line x1="40.5" y1="435.2" x2="46.5" y2="435.2" stroke="#222222" stroke-width="1.0"/>
<line x1="341.2" y1="435.2" x2="335.2" y2="435.2" stroke="#222222" stroke-width="1.0"/>
<line x1="40.5" y1="415.3" x2="44" y2="415.3" stroke="#222222" stroke-width="1.0"/>
<line x1="341.2" y1="415.3" x2="337.7" y2="415.3" stroke="#222222" stroke-width="1.0"/>
<line x1="40.5" y1="395.4" x2="46.5" y2="395.4" stroke="#222222" stroke-width="1.0"/>
<line x1="341.2" y1="395.4" x2="335.2" y2="395.4" stroke="#222222" stroke-width="1.0"/>
<line x1="40.5" y1="375.5" x2="44" y2="375.5" stroke="#222222" stroke-width="1.0"/>
<line x1="341.2" y1="375.5" x2="337.7" y2="375.5" stroke="#222222" stroke-width="1.0"/>
<line x1="40.5" y1="355.6" x2="46.5" y2="355.6" stroke="#222222" stroke-width="1.0"/>
<line x1="341.2" y1="355.6" x2="335.2" y2="355.6" stroke="#222222" stroke-width="1.0"/>
<line x1="40.5" y1="335.7" x2="44" y2="335.7" stroke="#222222" stroke-width="1.0"/>
<line x1="341.2" y1="335.7" x2="337.7" y2="335.7" stroke="#222222" stroke-width="1.0"/>
<line x1="40.5" y1="315.8" x2="46.5" y2="315.8" stroke="#222222" stroke-width="1.0"/>
<line x1="341.2" y1="315.8" x2="335.2" y2="315.8" stroke="#222222" stroke-width="1.0"/>
<line x1="40.5" y1="295.9" x2="44" y2="295.9" stroke="#222222" stroke-width="1.0"/>
<line x1="341.2" y1="295.9" x2="337.7" y2="295.9" stroke="#222222" stroke-width="1.0"/>
<line x1="40.5" y1="276" x2="46.5" y2="276" stroke="#222222" stroke-width="1.0"/>
<line x1="341.2" y1="276" x2="335.2" y2="276" stroke="#222222" stroke-width="1.0"/>
<line x1="40.5" y1="480.7" x2="40.5" y2="474.7" stroke="#222222" stroke-width="1.0"/>
<line x1="40.5" y1="270.3" x2="40.5" y2="276.3" stroke="#222222" stroke-width="1.0"/>
<line x1="115.67" y1="480.7" x2="115.67" y2="477.2" stroke="#222222" stroke-width="1.0"/>
<line x1="115.67" y1="270.3" x2="115.67" y2="273.8" stroke="#222222" stroke-width="1.0"/>
<line x1="190.85" y1="480.7" x2="190.85" y2="474.7" stroke="#222222" stroke-width="1.0"/>
<line x1="190.85" y1="270.3" x2="190.85" y2="276.3" stroke="#222222" stroke-width="1.0"/>
<line x1="266.02" y1="480.7" x2="266.02" y2="477.2" stroke="#222222" stroke-width="1.0"/>
<line x1="266.02" y1="270.3" x2="266.02" y2="273.8" stroke="#222222" stroke-width="1.0"/>
<line x1="341.2" y1="480.7" x2="341.2" y2="474.7" stroke="#222222" stroke-width="1.0"/>
<line x1="341.2" y1="270.3" x2="341.2" y2="276.3" stroke="#222222" stroke-width="1.0"/>
<path d="M40.5,276 C41.5,276.01 44.51,276.03 46.51,276.08 C48.52,276.13 50.52,276.21 52.53,276.32 C54.53,276.42 56.54,276.56 58.54,276.72 C60.55,276.88 62.55,277.06 64.56,277.27 C66.56,277.49 68.57,277.72 70.57,277.99 C72.57,278.26 74.58,278.55 76.58,278.87 C78.59,279.18 80.59,279.53 82.6,279.9 C84.6,280.27 86.61,280.67 88.61,281.09 C90.62,281.52 92.62,281.97 94.63,282.45 C96.63,282.93 98.64,283.43 100.64,283.96 C102.64,284.49 104.65,285.05 106.65,285.63 C108.66,286.22 110.66,286.83 112.67,287.46 C114.67,288.1 116.68,288.76 118.68,289.45 C120.69,290.14 122.69,290.86 124.7,291.6 C126.7,292.34 128.71,293.11 130.71,293.91 C132.71,294.71 134.72,295.53 136.72,296.38 C138.73,297.23 140.73,298.1 142.74,299 C144.74,299.91 146.75,300.84 148.75,301.79 C150.76,302.75 152.76,303.73 154.77,304.74 C156.77,305.74 158.78,306.78 160.78,307.84 C162.78,308.9 164.79,309.99 166.79,311.1 C168.8,312.22 170.8,313.36 172.81,314.53 C174.81,315.69 176.82,316.89 178.82,318.11 C180.83,319.33 182.83,320.58 184.84,321.85 C186.84,323.12 188.85,324.42 190.85,325.75 C192.85,327.08 194.86,328.43 196.86,329.81 C198.87,331.19 200.87,332.6 202.88,334.03 C204.88,335.46 206.89,336.92 208.89,338.41 C210.9,339.89 212.9,341.4 214.91,342.94 C216.91,344.48 218.92,346.05 220.92,347.64 C222.92,349.23 224.93,350.85 226.93,352.5 C228.94,354.14 230.94,355.81 232.95,357.51 C234.95,359.21 236.96,360.93 238.96,362.68 C240.97,364.44 242.97,366.21 244.98,368.02 C246.98,369.82 248.99,371.65 250.99,373.51 C252.99,375.37 255,377.25 257,379.16 C259.01,381.07 261.01,383.01 263.02,384.97 C265.02,386.94 267.03,388.93 269.03,390.94 C271.04,392.96 273.04,395 275.05,397.07 C277.05,399.14 279.06,401.24 281.06,403.36 C283.06,405.48 285.07,407.63 287.07,409.81 C289.08,411.98 291.08,414.19 293.09,416.41 C295.09,418.64 297.1,420.9 299.1,423.18 C301.11,425.46 303.11,427.77 305.12,430.11 C307.12,432.44 309.13,434.8 311.13,437.19 C313.13,439.58 315.14,441.99 317.14,444.43 C319.15,446.87 321.15,449.34 323.16,451.84 C325.16,454.33 327.17,456.85 329.17,459.4 C331.18,461.95 333.18,464.52 335.19,467.12 C337.19,469.72 340.2,473.69 341.2,475" fill="none" stroke="#000000" stroke-width="1.2" stroke-dasharray="4.4,2.9" stroke-linejoin="round"/>
<path d="M40.5,285.79 L41.5,285.82 L42.5,285.85 L43.51,285.88 L44.51,285.92 L45.51,285.96 L46.51,286.01 L47.51,286.06 L48.51,286.11 L49.52,286.17 L50.52,286.23 L51.52,286.29 L52.52,286.36 L53.52,286.43 L54.52,286.5 L55.52,286.58 L56.53,286.66 L57.53,286.75 L58.53,286.84 L59.53,286.93 L60.53,287.03 L61.53,287.13 L62.54,287.24 L63.54,287.35 L64.54,287.46 L65.54,287.58 L66.54,287.7 L67.55,287.83 L68.55,287.95 L69.55,288.09 L70.55,288.22 L71.55,288.36 L72.55,288.51 L73.56,288.66 L74.56,288.81 L75.56,288.97 L76.56,289.13 L77.56,289.29 L78.56,289.46 L79.56,289.63 L80.57,289.81 L81.57,289.99 L82.57,290.17 L83.57,290.36 L84.57,290.55 L85.58,290.75 L86.58,290.95 L87.58,291.16 L88.58,291.36 L89.58,291.58 L90.58,291.79 L91.59,292.02 L92.59,292.24 L93.59,292.47 L94.59,292.7 L95.59,292.94 L96.59,293.18 L97.59,293.43 L98.6,293.68 L99.6,293.94 L100.6,294.19 L101.6,294.46 L102.6,294.72 L103.61,295 L104.61,295.27 L105.61,295.55 L106.61,295.84 L107.61,296.12 L108.61,296.42 L109.62,296.71 L110.62,297.02 L111.62,297.32 L112.62,297.63 L113.62,297.95 L114.62,298.27 L115.62,298.59 L116.63,298.92 L117.63,299.25 L118.63,299.58 L119.63,299.92 L120.63,300.27 L121.64,300.62 L122.64,300.97 L123.64,301.33 L124.64,301.69 L125.64,302.06 L126.64,302.43 L127.65,302.81 L128.65,303.19 L129.65,303.57 L130.65,303.96 L131.65,304.36 L132.65,304.76 L133.66,305.16 L134.66,305.57 L135.66,305.98 L136.66,306.39 L137.66,306.82 L138.66,307.24 L139.67,307.67 L140.67,308.11 L141.67,308.55 L142.67,308.99 L143.67,309.44 L144.67,309.89 L145.68,310.35 L146.68,310.81 L147.68,311.28 L148.68,311.75 L149.68,312.23 L150.68,312.71 L151.69,313.2 L152.69,313.69 L153.69,314.18 L154.69,314.68 L155.69,315.19 L156.69,315.7 L157.69,316.21 L158.7,316.73 L159.7,317.25 L160.7,317.78 L161.7,318.32 L162.7,318.85 L163.7,319.4 L164.71,319.94 L165.71,320.5 L166.71,321.05 L167.71,321.62 L168.71,322.18 L169.72,322.76 L170.72,323.33 L171.72,323.92 L172.72,324.5 L173.72,325.09 L174.72,325.69 L175.72,326.29 L176.73,326.9 L177.73,327.51 L178.73,328.12 L179.73,328.75 L180.73,329.37 L181.74,330 L182.74,330.64 L183.74,331.28 L184.74,331.93 L185.74,332.58 L186.74,333.23 L187.75,333.89 L188.75,334.56 L189.75,335.23 L190.75,335.91 L191.75,336.59 L192.75,337.28 L193.75,337.97 L194.76,338.66 L195.76,339.37 L196.76,340.07 L197.76,340.78 L198.76,341.5 L199.77,342.22 L200.77,342.95 L201.77,343.68 L202.77,344.42 L203.77,345.16 L204.77,345.91 L205.78,346.67 L206.78,347.42 L207.78,348.19 L208.78,348.96 L209.78,349.73 L210.78,350.51 L211.78,351.29 L212.79,352.08 L213.79,352.87 L214.79,353.67 L215.79,354.47 L216.79,355.28 L217.8,356.1 L218.8,356.91 L219.8,357.74 L220.8,358.56 L221.8,359.39 L222.8,360.23 L223.81,361.07 L224.81,361.92 L225.81,362.77 L226.81,363.62 L227.81,364.48 L228.81,365.35 L229.81,366.22 L230.82,367.09 L231.82,367.97 L232.82,368.85 L233.82,369.74 L234.82,370.63 L235.83,371.52 L236.83,372.42 L237.83,373.33 L238.83,374.24 L239.83,375.15 L240.83,376.06 L241.84,376.99 L242.84,377.91 L243.84,378.84 L244.84,379.77 L245.84,380.71 L246.84,381.65 L247.84,382.6 L248.85,383.55 L249.85,384.5 L250.85,385.46 L251.85,386.42 L252.85,387.39 L253.86,388.36 L254.86,389.33 L255.86,390.31 L256.86,391.29 L257.86,392.27 L258.86,393.26 L259.87,394.26 L260.87,395.25 L261.87,396.25 L262.87,397.26 L263.87,398.26 L264.87,399.27 L265.88,400.29 L266.88,401.31 L267.88,402.33 L268.88,403.35 L269.88,404.38 L270.88,405.41 L271.88,406.45 L272.89,407.49 L273.89,408.53 L274.89,409.58 L275.89,410.62 L276.89,411.68 L277.89,412.73 L278.9,413.79 L279.9,414.85 L280.9,415.92 L281.9,416.99 L282.9,418.06 L283.9,419.13 L284.91,420.21 L285.91,421.29 L286.91,422.38 L287.91,423.46 L288.91,424.55 L289.92,425.65 L290.92,426.74 L291.92,427.84 L292.92,428.94 L293.92,430.05 L294.92,431.15 L295.93,432.26 L296.93,433.37 L297.93,434.47 L298.93,435.58 L299.93,436.69 L300.93,437.79 L301.94,438.89 L302.94,439.99 L303.94,441.09 L304.94,442.18 L305.94,443.27 L306.94,444.35 L307.94,445.43 L308.95,446.51 L309.95,447.58 L310.95,448.64 L311.95,449.69 L312.95,450.74 L313.95,451.77 L314.96,452.8 L315.96,453.82 L316.96,454.83 L317.96,455.83 L318.96,456.82 L319.97,457.8 L320.97,458.77 L321.97,459.72 L322.97,460.66 L323.97,461.59 L324.97,462.5 L325.98,463.4 L326.98,464.29 L327.98,465.16 L328.98,466.01 L329.98,466.85 L330.98,467.67 L331.99,468.47 L332.99,469.25 L333.99,470.02 L334.99,470.76 L335.99,471.49 L336.99,472.2 L338,472.88 L339,473.55 L340,474.19 L341,474.81" fill="none" stroke="#0c8a36" stroke-width="1.4" stroke-linejoin="round"/>
<path d="M40.5,337.9 L41.5,337.89 L42.5,337.88 L43.51,337.87 L44.51,337.87 L45.51,337.87 L46.51,337.88 L47.51,337.9 L48.51,337.91 L49.52,337.94 L50.52,337.97 L51.52,338 L52.52,338.04 L53.52,338.08 L54.52,338.13 L55.52,338.18 L56.53,338.24 L57.53,338.3 L58.53,338.37 L59.53,338.44 L60.53,338.52 L61.53,338.6 L62.54,338.69 L63.54,338.78 L64.54,338.88 L65.54,338.98 L66.54,339.08 L67.55,339.2 L68.55,339.31 L69.55,339.43 L70.55,339.56 L71.55,339.69 L72.55,339.82 L73.56,339.96 L74.56,340.11 L75.56,340.26 L76.56,340.41 L77.56,340.57 L78.56,340.73 L79.56,340.9 L80.57,341.07 L81.57,341.25 L82.57,341.43 L83.57,341.62 L84.57,341.81 L85.58,342.01 L86.58,342.21 L87.58,342.42 L88.58,342.63 L89.58,342.85 L90.58,343.07 L91.59,343.29 L92.59,343.52 L93.59,343.76 L94.59,343.99 L95.59,344.24 L96.59,344.49 L97.59,344.74 L98.6,345 L99.6,345.26 L100.6,345.53 L101.6,345.8 L102.6,346.08 L103.61,346.36 L104.61,346.64 L105.61,346.93 L106.61,347.23 L107.61,347.53 L108.61,347.83 L109.62,348.14 L110.62,348.46 L111.62,348.77 L112.62,349.1 L113.62,349.43 L114.62,349.76 L115.62,350.09 L116.63,350.44 L117.63,350.78 L118.63,351.13 L119.63,351.49 L120.63,351.85 L121.64,352.21 L122.64,352.58 L123.64,352.95 L124.64,353.33 L125.64,353.71 L126.64,354.1 L127.65,354.49 L128.65,354.89 L129.65,355.29 L130.65,355.69 L131.65,356.1 L132.65,356.52 L133.66,356.94 L134.66,357.36 L135.66,357.79 L136.66,358.22 L137.66,358.66 L138.66,359.1 L139.67,359.54 L140.67,360 L141.67,360.45 L142.67,360.91 L143.67,361.37 L144.67,361.84 L145.68,362.31 L146.68,362.79 L147.68,363.27 L148.68,363.76 L149.68,364.25 L150.68,364.74 L151.69,365.24 L152.69,365.75 L153.69,366.26 L154.69,366.77 L155.69,367.29 L156.69,367.81 L157.69,368.33 L158.7,368.86 L159.7,369.4 L160.7,369.94 L161.7,370.48 L162.7,371.03 L163.7,371.58 L164.71,372.14 L165.71,372.7 L166.71,373.26 L167.71,373.83 L168.71,374.41 L169.72,374.99 L170.72,375.57 L171.72,376.16 L172.72,376.75 L173.72,377.35 L174.72,377.95 L175.72,378.55 L176.73,379.16 L177.73,379.77 L178.73,380.39 L179.73,381.01 L180.73,381.63 L181.74,382.26 L182.74,382.89 L183.74,383.53 L184.74,384.17 L185.74,384.81 L186.74,385.45 L187.75,386.1 L188.75,386.75 L189.75,387.41 L190.75,388.06 L191.75,388.72 L192.75,389.39 L193.75,390.05 L194.76,390.72 L195.76,391.39 L196.76,392.07 L197.76,392.74 L198.76,393.42 L199.77,394.1 L200.77,394.78 L201.77,395.47 L202.77,396.15 L203.77,396.84 L204.77,397.53 L205.78,398.22 L206.78,398.92 L207.78,399.61 L208.78,400.31 L209.78,401.01 L210.78,401.71 L211.78,402.41 L212.79,403.11 L213.79,403.81 L214.79,404.51 L215.79,405.22 L216.79,405.92 L217.8,406.63 L218.8,407.34 L219.8,408.05 L220.8,408.77 L221.8,409.49 L222.8,410.21 L223.81,410.95 L224.81,411.69 L225.81,412.43 L226.81,413.19 L227.81,413.95 L228.81,414.72 L229.81,415.51 L230.82,416.3 L231.82,417.11 L232.82,417.93 L233.82,418.76 L234.82,419.61 L235.83,420.47 L236.83,421.35 L237.83,422.24 L238.83,423.14 L239.83,424.05 L240.83,424.97 L241.84,425.9 L242.84,426.84 L243.84,427.79 L244.84,428.74 L245.84,429.7 L246.84,430.67 L247.84,431.64 L248.85,432.62 L249.85,433.6 L250.85,434.59 L251.85,435.57 L252.85,436.56 L253.86,437.55 L254.86,438.54 L255.86,439.53 L256.86,440.51 L257.86,441.5 L258.86,442.48 L259.87,443.45 L260.87,444.43 L261.87,445.39 L262.87,446.36 L263.87,447.31 L264.87,448.26 L265.88,449.2 L266.88,450.13 L267.88,451.05 L268.88,451.95 L269.88,452.85 L270.88,453.74 L271.88,454.61 L272.89,455.47 L273.89,456.32 L274.89,457.14 L275.89,457.96 L276.89,458.75 L277.89,459.53 L278.9,460.28 L279.9,461.01 L280.9,461.73 L281.9,462.42 L282.9,463.08 L283.9,463.72 L284.91,464.34 L285.91,464.93 L286.91,465.49 L287.91,466.04 L288.91,466.55 L289.92,467.05 L290.92,467.52 L291.92,467.97 L292.92,468.4 L293.92,468.81 L294.92,469.19 L295.93,469.56 L296.93,469.91 L297.93,470.24 L298.93,470.55 L299.93,470.84 L300.93,471.12 L301.94,471.38 L302.94,471.62 L303.94,471.85 L304.94,472.07 L305.94,472.27 L306.94,472.45 L307.94,472.63 L308.95,472.79 L309.95,472.94 L310.95,473.07 L311.95,473.2 L312.95,473.31 L313.95,473.42 L314.96,473.52 L315.96,473.61 L316.96,473.69 L317.96,473.76 L318.96,473.82 L319.97,473.88 L320.97,473.93 L321.97,473.98 L322.97,474.02 L323.97,474.06 L324.97,474.1 L325.98,474.13 L326.98,474.16 L327.98,474.18 L328.98,474.21 L329.98,474.23 L330.98,474.26 L331.99,474.28 L332.99,474.31 L333.99,474.33 L334.99,474.36 L335.99,474.39 L336.99,474.42 L338,474.46 L339,474.5 L340,474.55 L341,474.6" fill="none" stroke="#2537a8" stroke-width="1.4" stroke-linejoin="round"/>
<path d="M40.5,443.3 L41.5,443.25 L42.5,443.21 L43.51,443.18 L44.51,443.15 L45.51,443.14 L46.51,443.13 L47.51,443.13 L48.51,443.13 L49.52,443.15 L50.52,443.17 L51.52,443.2 L52.52,443.23 L53.52,443.28 L54.52,443.33 L55.52,443.39 L56.53,443.45 L57.53,443.53 L58.53,443.61 L59.53,443.69 L60.53,443.79 L61.53,443.89 L62.54,443.99 L63.54,444.11 L64.54,444.23 L65.54,444.35 L66.54,444.49 L67.55,444.62 L68.55,444.77 L69.55,444.92 L70.55,445.08 L71.55,445.24 L72.55,445.41 L73.56,445.59 L74.56,445.77 L75.56,445.95 L76.56,446.14 L77.56,446.34 L78.56,446.54 L79.56,446.75 L80.57,446.96 L81.57,447.18 L82.57,447.41 L83.57,447.63 L84.57,447.87 L85.58,448.11 L86.58,448.35 L87.58,448.6 L88.58,448.85 L89.58,449.11 L90.58,449.37 L91.59,449.63 L92.59,449.9 L93.59,450.18 L94.59,450.46 L95.59,450.74 L96.59,451.03 L97.59,451.32 L98.6,451.61 L99.6,451.91 L100.6,452.21 L101.6,452.51 L102.6,452.82 L103.61,453.14 L104.61,453.45 L105.61,453.77 L106.61,454.09 L107.61,454.42 L108.61,454.75 L109.62,455.08 L110.62,455.41 L111.62,455.75 L112.62,456.09 L113.62,456.43 L114.62,456.77 L115.62,457.12 L116.63,457.47 L117.63,457.82 L118.63,458.18 L119.63,458.54 L120.63,458.89 L121.64,459.25 L122.64,459.62 L123.64,459.98 L124.64,460.35 L125.64,460.72 L126.64,461.09 L127.65,461.46 L128.65,461.83 L129.65,462.2 L130.65,462.58 L131.65,462.96 L132.65,463.34 L133.66,463.71 L134.66,464.09 L135.66,464.48 L136.66,464.86 L137.66,465.24 L138.66,465.62 L139.67,466 L140.67,466.38 L141.67,466.75 L142.67,467.13 L143.67,467.5 L144.67,467.86 L145.68,468.23 L146.68,468.59 L147.68,468.94 L148.68,469.29 L149.68,469.64 L150.68,469.98 L151.69,470.31 L152.69,470.63 L153.69,470.95 L154.69,471.26 L155.69,471.57 L156.69,471.86 L157.69,472.14 L158.7,472.42 L159.7,472.68 L160.7,472.94 L161.7,473.18 L162.7,473.41 L163.7,473.63 L164.71,473.84 L165.71,474.03 L166.71,474.22 L167.71,474.38 L168.71,474.54 L169.72,474.68 L170.72,474.82 L171.72,474.94 L172.72,475.04 L173.72,475.14 L174.72,475.23 L175.72,475.31 L176.73,475.38 L177.73,475.44 L178.73,475.49 L179.73,475.54 L180.73,475.57 L181.74,475.6 L182.74,475.63 L183.74,475.65 L184.74,475.66 L185.74,475.66 L186.74,475.67 L187.75,475.66 L188.75,475.66 L189.75,475.65 L190.75,475.64 L191.75,475.62 L192.75,475.61 L193.75,475.59 L194.76,475.57 L195.76,475.55 L196.76,475.53 L197.76,475.5 L198.76,475.48 L199.77,475.46 L200.77,475.43 L201.77,475.41 L202.77,475.39 L203.77,475.36 L204.77,475.34 L205.78,475.32 L206.78,475.3 L207.78,475.28 L208.78,475.26 L209.78,475.24 L210.78,475.22 L211.78,475.2 L212.79,475.19 L213.79,475.17 L214.79,475.15 L215.79,475.14 L216.79,475.13 L217.8,475.11 L218.8,475.1 L219.8,475.09 L220.8,475.07 L221.8,475.06 L222.8,475.05 L223.81,475.04 L224.81,475.03 L225.81,475.02 L226.81,475.02 L227.81,475.01 L228.81,475 L229.81,474.99 L230.82,474.99 L231.82,474.98 L232.82,474.97 L233.82,474.97 L234.82,474.97 L235.83,474.96 L236.83,474.96 L237.83,474.95 L238.83,474.95 L239.83,474.95 L240.83,474.95 L241.84,474.95 L242.84,474.94 L243.84,474.94 L244.84,474.94 L245.84,474.94 L246.84,474.94 L247.84,474.94 L248.85,474.94 L249.85,474.94 L250.85,474.95 L251.85,474.95 L252.85,474.95 L253.86,474.95 L254.86,474.95 L255.86,474.96 L256.86,474.96 L257.86,474.96 L258.86,474.97 L259.87,474.97 L260.87,474.97 L261.87,474.98 L262.87,474.98 L263.87,474.99 L264.87,474.99 L265.88,475 L266.88,475 L267.88,475.01 L268.88,475.01 L269.88,475.02 L270.88,475.02 L271.88,475.03 L272.89,475.03 L273.89,475.04 L274.89,475.05 L275.89,475.05 L276.89,475.06 L277.89,475.06 L278.9,475.07 L279.9,475.08 L280.9,475.08 L281.9,475.09 L282.9,475.09 L283.9,475.1 L284.91,475.11 L285.91,475.11 L286.91,475.12 L287.91,475.12 L288.91,475.13 L289.92,475.13 L290.92,475.14 L291.92,475.15 L292.92,475.15 L293.92,475.16 L294.92,475.16 L295.93,475.17 L296.93,475.17 L297.93,475.18 L298.93,475.18 L299.93,475.18 L300.93,475.19 L301.94,475.19 L302.94,475.2 L303.94,475.2 L304.94,475.2 L305.94,475.21 L306.94,475.21 L307.94,475.21 L308.95,475.21 L309.95,475.22 L310.95,475.22 L311.95,475.22 L312.95,475.22 L313.95,475.22 L314.96,475.22 L315.96,475.22 L316.96,475.22 L317.96,475.22 L318.96,475.22 L319.97,475.22 L320.97,475.22 L321.97,475.22 L322.97,475.22 L323.97,475.21 L324.97,475.21 L325.98,475.21 L326.98,475.2 L327.98,475.2 L328.98,475.19 L329.98,475.19 L330.98,475.18 L331.99,475.18 L332.99,475.17 L333.99,475.16 L334.99,475.16 L335.99,475.15 L336.99,475.14 L338,475.13 L339,475.12 L340,475.11 L341,475.1" fill="none" stroke="#000000" stroke-width="1.4" stroke-linejoin="round"/>
<path d="M40.5,441.4 L41.5,441.39 L42.5,441.38 L43.51,441.38 L44.51,441.39 L45.51,441.4 L46.51,441.42 L47.51,441.44 L48.51,441.46 L49.52,441.5 L50.52,441.53 L51.52,441.58 L52.52,441.63 L53.52,441.68 L54.52,441.74 L55.52,441.8 L56.53,441.87 L57.53,441.95 L58.53,442.03 L59.53,442.11 L60.53,442.2 L61.53,442.3 L62.54,442.4 L63.54,442.51 L64.54,442.62 L65.54,442.73 L66.54,442.86 L67.55,442.98 L68.55,443.11 L69.55,443.25 L70.55,443.39 L71.55,443.54 L72.55,443.69 L73.56,443.84 L74.56,444 L75.56,444.17 L76.56,444.34 L77.56,444.52 L78.56,444.7 L79.56,444.88 L80.57,445.07 L81.57,445.27 L82.57,445.47 L83.57,445.67 L84.57,445.88 L85.58,446.09 L86.58,446.31 L87.58,446.53 L88.58,446.76 L89.58,446.99 L90.58,447.23 L91.59,447.47 L92.59,447.71 L93.59,447.96 L94.59,448.21 L95.59,448.47 L96.59,448.74 L97.59,449 L98.6,449.27 L99.6,449.55 L100.6,449.83 L101.6,450.12 L102.6,450.4 L103.61,450.7 L104.61,450.99 L105.61,451.3 L106.61,451.6 L107.61,451.91 L108.61,452.23 L109.62,452.54 L110.62,452.87 L111.62,453.19 L112.62,453.52 L113.62,453.86 L114.62,454.2 L115.62,454.54 L116.63,454.88 L117.63,455.23 L118.63,455.59 L119.63,455.95 L120.63,456.31 L121.64,456.67 L122.64,457.04 L123.64,457.42 L124.64,457.79 L125.64,458.18 L126.64,458.56 L127.65,458.95 L128.65,459.34 L129.65,459.74 L130.65,460.14 L131.65,460.54 L132.65,460.95 L133.66,461.36 L134.66,461.77 L135.66,462.19 L136.66,462.61 L137.66,463.03 L138.66,463.46 L139.67,463.88 L140.67,464.31 L141.67,464.73 L142.67,465.15 L143.67,465.58 L144.67,466 L145.68,466.41 L146.68,466.83 L147.68,467.24 L148.68,467.64 L149.68,468.04 L150.68,468.44 L151.69,468.83 L152.69,469.21 L153.69,469.58 L154.69,469.95 L155.69,470.31 L156.69,470.65 L157.69,470.99 L158.7,471.32 L159.7,471.63 L160.7,471.94 L161.7,472.23 L162.7,472.51 L163.7,472.77 L164.71,473.02 L165.71,473.26 L166.71,473.48 L167.71,473.68 L168.71,473.87 L169.72,474.04 L170.72,474.2 L171.72,474.35 L172.72,474.49 L173.72,474.61 L174.72,474.72 L175.72,474.82 L176.73,474.9 L177.73,474.98 L178.73,475.05 L179.73,475.11 L180.73,475.16 L181.74,475.2 L182.74,475.23 L183.74,475.26 L184.74,475.28 L185.74,475.29 L186.74,475.3 L187.75,475.31 L188.75,475.31 L189.75,475.3 L190.75,475.29 L191.75,475.28 L192.75,475.27 L193.75,475.25 L194.76,475.24 L195.76,475.22 L196.76,475.2 L197.76,475.18 L198.76,475.16 L199.77,475.14 L200.77,475.12 L201.77,475.09 L202.77,475.07 L203.77,475.05 L204.77,475.03 L205.78,475.01 L206.78,474.99 L207.78,474.97 L208.78,474.95 L209.78,474.93 L210.78,474.92 L211.78,474.9 L212.79,474.89 L213.79,474.87 L214.79,474.86 L215.79,474.84 L216.79,474.83 L217.8,474.82 L218.8,474.8 L219.8,474.79 L220.8,474.78 L221.8,474.77 L222.8,474.76 L223.81,474.75 L224.81,474.74 L225.81,474.73 L226.81,474.73 L227.81,474.72 L228.81,474.71 L229.81,474.7 L230.82,474.7 L231.82,474.69 L232.82,474.69 L233.82,474.68 L234.82,474.68 L235.83,474.67 L236.83,474.67 L237.83,474.67 L238.83,474.67 L239.83,474.66 L240.83,474.66 L241.84,474.66 L242.84,474.66 L243.84,474.66 L244.84,474.66 L245.84,474.66 L246.84,474.66 L247.84,474.66 L248.85,474.66 L249.85,474.66 L250.85,474.66 L251.85,474.66 L252.85,474.66 L253.86,474.67 L254.86,474.67 L255.86,474.67 L256.86,474.67 L257.86,474.68 L258.86,474.68 L259.87,474.68 L260.87,474.69 L261.87,474.69 L262.87,474.69 L263.87,474.7 L264.87,474.7 L265.88,474.71 L266.88,474.71 L267.88,474.71 L268.88,474.72 L269.88,474.72 L270.88,474.73 L271.88,474.73 L272.89,474.74 L273.89,474.74 L274.89,474.75 L275.89,474.76 L276.89,474.76 L277.89,474.77 L278.9,474.77 L279.9,474.78 L280.9,474.78 L281.9,474.79 L282.9,474.79 L283.9,474.8 L284.91,474.8 L285.91,474.81 L286.91,474.82 L287.91,474.82 L288.91,474.83 L289.92,474.83 L290.92,474.84 L291.92,474.84 L292.92,474.85 L293.92,474.85 L294.92,474.86 L295.93,474.86 L296.93,474.87 L297.93,474.87 L298.93,474.87 L299.93,474.88 L300.93,474.88 L301.94,474.89 L302.94,474.89 L303.94,474.89 L304.94,474.9 L305.94,474.9 L306.94,474.9 L307.94,474.9 L308.95,474.91 L309.95,474.91 L310.95,474.91 L311.95,474.91 L312.95,474.91 L313.95,474.91 L314.96,474.91 L315.96,474.91 L316.96,474.91 L317.96,474.91 L318.96,474.91 L319.97,474.91 L320.97,474.91 L321.97,474.91 L322.97,474.91 L323.97,474.9 L324.97,474.9 L325.98,474.9 L326.98,474.89 L327.98,474.89 L328.98,474.89 L329.98,474.88 L330.98,474.88 L331.99,474.87 L332.99,474.86 L333.99,474.86 L334.99,474.85 L335.99,474.84 L336.99,474.84 L338,474.83 L339,474.82 L340,474.81 L341,474.8" fill="none" stroke="#ee1c24" stroke-width="1.0" stroke-linejoin="round"/>
<path d="M40.5,398.6 L41.5,398.63 L42.5,398.67 L43.51,398.71 L44.51,398.75 L45.51,398.78 L46.51,398.83 L47.51,398.87 L48.51,398.91 L49.52,398.96 L50.52,399 L51.52,399.05 L52.52,399.1 L53.52,399.16 L54.52,399.21 L55.52,399.27 L56.53,399.32 L57.53,399.38 L58.53,399.45 L59.53,399.51 L60.53,399.58 L61.53,399.65 L62.54,399.72 L63.54,399.79 L64.54,399.87 L65.54,399.95 L66.54,400.03 L67.55,400.11 L68.55,400.2 L69.55,400.29 L70.55,400.38 L71.55,400.48 L72.55,400.58 L73.56,400.68 L74.56,400.78 L75.56,400.89 L76.56,401 L77.56,401.11 L78.56,401.23 L79.56,401.35 L80.57,401.48 L81.57,401.61 L82.57,401.74 L83.57,401.87 L84.57,402.01 L85.58,402.15 L86.58,402.3 L87.58,402.45 L88.58,402.61 L89.58,402.78 L90.58,402.95 L91.59,403.13 L92.59,403.32 L93.59,403.52 L94.59,403.72 L95.59,403.94 L96.59,404.17 L97.59,404.4 L98.6,404.65 L99.6,404.91 L100.6,405.19 L101.6,405.48 L102.6,405.78 L103.61,406.09 L104.61,406.42 L105.61,406.77 L106.61,407.13 L107.61,407.51 L108.61,407.9 L109.62,408.3 L110.62,408.71 L111.62,409.12 L112.62,409.54 L113.62,409.95 L114.62,410.35 L115.62,410.75 L116.63,411.13 L117.63,411.51 L118.63,411.88 L119.63,412.24 L120.63,412.59 L121.64,412.94 L122.64,413.29 L123.64,413.62 L124.64,413.96 L125.64,414.29 L126.64,414.62 L127.65,414.95 L128.65,415.27 L129.65,415.6 L130.65,415.93 L131.65,416.25 L132.65,416.58 L133.66,416.92 L134.66,417.25 L135.66,417.59 L136.66,417.94 L137.66,418.29 L138.66,418.64 L139.67,419.01 L140.67,419.38 L141.67,419.75 L142.67,420.13 L143.67,420.52 L144.67,420.91 L145.68,421.31 L146.68,421.71 L147.68,422.11 L148.68,422.52 L149.68,422.94 L150.68,423.35 L151.69,423.78 L152.69,424.2 L153.69,424.63 L154.69,425.07 L155.69,425.51 L156.69,425.96 L157.69,426.41 L158.7,426.87 L159.7,427.34 L160.7,427.81 L161.7,428.29 L162.7,428.77 L163.7,429.27 L164.71,429.77 L165.71,430.28 L166.71,430.8 L167.71,431.33 L168.71,431.86 L169.72,432.41 L170.72,432.97 L171.72,433.53 L172.72,434.11 L173.72,434.69 L174.72,435.29 L175.72,435.9 L176.73,436.52 L177.73,437.15 L178.73,437.79 L179.73,438.45 L180.73,439.12 L181.74,439.8 L182.74,440.49 L183.74,441.19 L184.74,441.9 L185.74,442.62 L186.74,443.34 L187.75,444.08 L188.75,444.82 L189.75,445.56 L190.75,446.31 L191.75,447.06 L192.75,447.81 L193.75,448.57 L194.76,449.33 L195.76,450.08 L196.76,450.84 L197.76,451.59 L198.76,452.34 L199.77,453.09 L200.77,453.83 L201.77,454.56 L202.77,455.29 L203.77,456.02 L204.77,456.74 L205.78,457.45 L206.78,458.16 L207.78,458.87 L208.78,459.57 L209.78,460.28 L210.78,460.99 L211.78,461.7 L212.79,462.42 L213.79,463.14 L214.79,463.87 L215.79,464.61 L216.79,465.34 L217.8,466.06 L218.8,466.77 L219.8,467.46 L220.8,468.11 L221.8,468.73 L222.8,469.31 L223.81,469.84 L224.81,470.32 L225.81,470.76 L226.81,471.15 L227.81,471.51 L228.81,471.82 L229.81,472.09 L230.82,472.34 L231.82,472.55 L232.82,472.74 L233.82,472.9 L234.82,473.05 L235.83,473.17 L236.83,473.28 L237.83,473.38 L238.83,473.47 L239.83,473.56 L240.83,473.64 L241.84,473.72 L242.84,473.8 L243.84,473.87 L244.84,473.94 L245.84,474.01 L246.84,474.07 L247.84,474.13 L248.85,474.19 L249.85,474.24 L250.85,474.29 L251.85,474.34 L252.85,474.39 L253.86,474.43 L254.86,474.47 L255.86,474.51 L256.86,474.55 L257.86,474.58 L258.86,474.61 L259.87,474.64 L260.87,474.67 L261.87,474.7 L262.87,474.72 L263.87,474.75 L264.87,474.77 L265.88,474.79 L266.88,474.81 L267.88,474.82 L268.88,474.84 L269.88,474.85 L270.88,474.86 L271.88,474.88 L272.89,474.89 L273.89,474.9 L274.89,474.91 L275.89,474.91 L276.89,474.92 L277.89,474.93 L278.9,474.93 L279.9,474.94 L280.9,474.95 L281.9,474.95 L282.9,474.95 L283.9,474.96 L284.91,474.96 L285.91,474.96 L286.91,474.96 L287.91,474.96 L288.91,474.96 L289.92,474.96 L290.92,474.96 L291.92,474.96 L292.92,474.96 L293.92,474.96 L294.92,474.95 L295.93,474.95 L296.93,474.95 L297.93,474.95 L298.93,474.94 L299.93,474.94 L300.93,474.94 L301.94,474.93 L302.94,474.93 L303.94,474.92 L304.94,474.92 L305.94,474.92 L306.94,474.91 L307.94,474.91 L308.95,474.9 L309.95,474.9 L310.95,474.89 L311.95,474.89 L312.95,474.89 L313.95,474.88 L314.96,474.88 L315.96,474.87 L316.96,474.87 L317.96,474.87 L318.96,474.86 L319.97,474.86 L320.97,474.86 L321.97,474.86 L322.97,474.85 L323.97,474.85 L324.97,474.85 L325.98,474.85 L326.98,474.85 L327.98,474.85 L328.98,474.85 L329.98,474.85 L330.98,474.85 L331.99,474.86 L332.99,474.86 L333.99,474.86 L334.99,474.86 L335.99,474.87 L336.99,474.87 L338,474.88 L339,474.89 L340,474.89 L341,474.9" fill="none" stroke="#ff9a1a" stroke-width="1.4" stroke-linejoin="round"/>
<circle cx="45.51" cy="444.2" r="2.0" fill="#000000"/>
<circle cx="55.53" cy="444.9" r="2.0" fill="#000000"/>
<circle cx="65.56" cy="446" r="2.0" fill="#000000"/>
<circle cx="75.58" cy="446.6" r="2.0" fill="#000000"/>
<circle cx="85.6" cy="448.3" r="2.0" fill="#000000"/>
<circle cx="95.63" cy="450.6" r="2.0" fill="#000000"/>
<circle cx="105.65" cy="453.3" r="2.0" fill="#000000"/>
<circle cx="115.67" cy="456.5" r="2.0" fill="#000000"/>
<circle cx="125.7" cy="460.1" r="2.0" fill="#000000"/>
<circle cx="135.72" cy="464" r="2.0" fill="#000000"/>
<circle cx="145.75" cy="468.1" r="2.0" fill="#000000"/>
<circle cx="155.77" cy="471.6" r="2.0" fill="#000000"/>
<circle cx="165.79" cy="474.3" r="2.0" fill="#000000"/>
<circle cx="175.81" cy="475.6" r="2.0" fill="#000000"/>
<circle cx="185.84" cy="475.5" r="2.0" fill="#000000"/>
<circle cx="195.86" cy="475.5" r="2.0" fill="#000000"/>
<circle cx="205.89" cy="475.5" r="2.0" fill="#000000"/>
<circle cx="215.91" cy="475.5" r="2.0" fill="#000000"/>
<circle cx="225.93" cy="475.5" r="2.0" fill="#000000"/>
<circle cx="235.96" cy="475.5" r="2.0" fill="#000000"/>
<circle cx="245.98" cy="475.5" r="2.0" fill="#000000"/>
<circle cx="256" cy="475.5" r="2.0" fill="#000000"/>
<circle cx="266.02" cy="475.5" r="2.0" fill="#000000"/>
<circle cx="276.05" cy="475.5" r="2.0" fill="#000000"/>
<circle cx="286.07" cy="475.5" r="2.0" fill="#000000"/>
<circle cx="296.09" cy="475.5" r="2.0" fill="#000000"/>
<circle cx="306.12" cy="475.5" r="2.0" fill="#000000"/>
<circle cx="316.14" cy="475.5" r="2.0" fill="#000000"/>
<circle cx="326.16" cy="475.5" r="2.0" fill="#000000"/>
<circle cx="336.19" cy="475.5" r="2.0" fill="#000000"/>
<circle cx="45.51" cy="441" r="2.0" fill="#ee1c24"/>
<circle cx="55.53" cy="441.4" r="2.0" fill="#ee1c24"/>
<circle cx="65.56" cy="442.6" r="2.0" fill="#ee1c24"/>
<circle cx="75.58" cy="444.2" r="2.0" fill="#ee1c24"/>
<circle cx="85.6" cy="446" r="2.0" fill="#ee1c24"/>
<circle cx="95.63" cy="448.3" r="2.0" fill="#ee1c24"/>
<circle cx="105.65" cy="450.8" r="2.0" fill="#ee1c24"/>
<circle cx="115.67" cy="453.5" r="2.0" fill="#ee1c24"/>
<circle cx="125.7" cy="457.2" r="2.0" fill="#ee1c24"/>
<circle cx="135.72" cy="460.8" r="2.0" fill="#ee1c24"/>
<circle cx="145.75" cy="465.2" r="2.0" fill="#ee1c24"/>
<circle cx="155.77" cy="470" r="2.0" fill="#ee1c24"/>
<circle cx="165.79" cy="472.7" r="2.0" fill="#ee1c24"/>
<circle cx="175.81" cy="474.5" r="2.0" fill="#ee1c24"/>
<circle cx="185.84" cy="474.7" r="2.0" fill="#ee1c24"/>
<circle cx="195.86" cy="474.8" r="2.0" fill="#ee1c24"/>
<circle cx="205.89" cy="474.9" r="2.0" fill="#ee1c24"/>
<circle cx="215.91" cy="475" r="2.0" fill="#ee1c24"/>
<circle cx="225.93" cy="475.1" r="2.0" fill="#ee1c24"/>
<circle cx="235.96" cy="475.1" r="2.0" fill="#ee1c24"/>
<circle cx="245.98" cy="475.1" r="2.0" fill="#ee1c24"/>
<circle cx="256" cy="475.1" r="2.0" fill="#ee1c24"/>
<circle cx="266.02" cy="475.1" r="2.0" fill="#ee1c24"/>
<circle cx="276.05" cy="475.1" r="2.0" fill="#ee1c24"/>
<circle cx="286.07" cy="475.1" r="2.0" fill="#ee1c24"/>
<circle cx="296.09" cy="475.1" r="2.0" fill="#ee1c24"/>
<circle cx="306.12" cy="475.1" r="2.0" fill="#ee1c24"/>
<circle cx="316.14" cy="475.1" r="2.0" fill="#ee1c24"/>
<circle cx="326.16" cy="475.1" r="2.0" fill="#ee1c24"/>
<circle cx="336.19" cy="475.1" r="2.0" fill="#ee1c24"/>
<circle cx="45.51" cy="398" r="2.0" fill="#ff9a1a"/>
<circle cx="55.53" cy="398.7" r="2.0" fill="#ff9a1a"/>
<circle cx="65.56" cy="399.6" r="2.0" fill="#ff9a1a"/>
<circle cx="75.58" cy="400.3" r="2.0" fill="#ff9a1a"/>
<circle cx="85.6" cy="401.9" r="2.0" fill="#ff9a1a"/>
<circle cx="95.63" cy="404.2" r="2.0" fill="#ff9a1a"/>
<circle cx="105.65" cy="406.5" r="2.0" fill="#ff9a1a"/>
<circle cx="115.67" cy="409.5" r="2.0" fill="#ff9a1a"/>
<circle cx="125.7" cy="413" r="2.0" fill="#ff9a1a"/>
<circle cx="135.72" cy="416.9" r="2.0" fill="#ff9a1a"/>
<circle cx="145.75" cy="421.5" r="2.0" fill="#ff9a1a"/>
<circle cx="155.77" cy="426.7" r="2.0" fill="#ff9a1a"/>
<circle cx="165.79" cy="432" r="2.0" fill="#ff9a1a"/>
<circle cx="175.81" cy="437" r="2.0" fill="#ff9a1a"/>
<circle cx="185.84" cy="443.5" r="2.0" fill="#ff9a1a"/>
<circle cx="195.86" cy="449.9" r="2.0" fill="#ff9a1a"/>
<circle cx="205.89" cy="457.2" r="2.0" fill="#ff9a1a"/>
<circle cx="215.91" cy="464.3" r="2.0" fill="#ff9a1a"/>
<circle cx="225.93" cy="469.5" r="2.0" fill="#ff9a1a"/>
<circle cx="235.96" cy="472.7" r="2.0" fill="#ff9a1a"/>
<circle cx="245.98" cy="473.8" r="2.0" fill="#ff9a1a"/>
<circle cx="256" cy="474.2" r="2.0" fill="#ff9a1a"/>
<circle cx="266.02" cy="474.3" r="2.0" fill="#ff9a1a"/>
<circle cx="276.05" cy="474.3" r="2.0" fill="#ff9a1a"/>
<circle cx="286.07" cy="474.3" r="2.0" fill="#ff9a1a"/>
<circle cx="296.09" cy="474.3" r="2.0" fill="#ff9a1a"/>
<circle cx="306.12" cy="474.3" r="2.0" fill="#ff9a1a"/>
<circle cx="316.14" cy="474.3" r="2.0" fill="#ff9a1a"/>
<circle cx="326.16" cy="474.3" r="2.0" fill="#ff9a1a"/>
<circle cx="336.19" cy="474.3" r="2.0" fill="#ff9a1a"/>
<circle cx="45.51" cy="339.9" r="2.0" fill="#2537a8"/>
<circle cx="55.53" cy="340.7" r="2.0" fill="#2537a8"/>
<circle cx="65.56" cy="341.3" r="2.0" fill="#2537a8"/>
<circle cx="75.58" cy="342.7" r="2.0" fill="#2537a8"/>
<circle cx="85.6" cy="344.4" r="2.0" fill="#2537a8"/>
<circle cx="95.63" cy="346.4" r="2.0" fill="#2537a8"/>
<circle cx="105.65" cy="349.3" r="2.0" fill="#2537a8"/>
<circle cx="115.67" cy="352.1" r="2.0" fill="#2537a8"/>
<circle cx="125.7" cy="355.6" r="2.0" fill="#2537a8"/>
<circle cx="135.72" cy="359.4" r="2.0" fill="#2537a8"/>
<circle cx="145.75" cy="363.4" r="2.0" fill="#2537a8"/>
<circle cx="155.77" cy="368.6" r="2.0" fill="#2537a8"/>
<circle cx="165.79" cy="373.7" r="2.0" fill="#2537a8"/>
<circle cx="175.81" cy="379.1" r="2.0" fill="#2537a8"/>
<circle cx="185.84" cy="385.1" r="2.0" fill="#2537a8"/>
<circle cx="195.86" cy="392" r="2.0" fill="#2537a8"/>
<circle cx="205.89" cy="399.1" r="2.0" fill="#2537a8"/>
<circle cx="215.91" cy="406.6" r="2.0" fill="#2537a8"/>
<circle cx="225.93" cy="414.1" r="2.0" fill="#2537a8"/>
<circle cx="235.96" cy="422.9" r="2.0" fill="#2537a8"/>
<circle cx="245.98" cy="432" r="2.0" fill="#2537a8"/>
<circle cx="256" cy="441.6" r="2.0" fill="#2537a8"/>
<circle cx="266.02" cy="450.9" r="2.0" fill="#2537a8"/>
<circle cx="276.05" cy="460" r="2.0" fill="#2537a8"/>
<circle cx="286.07" cy="465.5" r="2.0" fill="#2537a8"/>
<circle cx="296.09" cy="468.6" r="2.0" fill="#2537a8"/>
<circle cx="306.12" cy="470.3" r="2.0" fill="#2537a8"/>
<circle cx="316.14" cy="471.4" r="2.0" fill="#2537a8"/>
<circle cx="326.16" cy="472.4" r="2.0" fill="#2537a8"/>
<circle cx="336.19" cy="473.4" r="2.0" fill="#2537a8"/>
<circle cx="45.51" cy="290.8" r="2.0" fill="#0c8a36"/>
<circle cx="55.53" cy="291.2" r="2.0" fill="#0c8a36"/>
<circle cx="65.56" cy="292.1" r="2.0" fill="#0c8a36"/>
<circle cx="75.58" cy="293.4" r="2.0" fill="#0c8a36"/>
<circle cx="85.6" cy="295.1" r="2.0" fill="#0c8a36"/>
<circle cx="95.63" cy="297.1" r="2.0" fill="#0c8a36"/>
<circle cx="105.65" cy="299.5" r="2.0" fill="#0c8a36"/>
<circle cx="115.67" cy="302.7" r="2.0" fill="#0c8a36"/>
<circle cx="125.7" cy="306" r="2.0" fill="#0c8a36"/>
<circle cx="135.72" cy="309.9" r="2.0" fill="#0c8a36"/>
<circle cx="145.75" cy="314.3" r="2.0" fill="#0c8a36"/>
<circle cx="155.77" cy="319.3" r="2.0" fill="#0c8a36"/>
<circle cx="165.79" cy="324.2" r="2.0" fill="#0c8a36"/>
<circle cx="175.81" cy="330" r="2.0" fill="#0c8a36"/>
<circle cx="185.84" cy="336.5" r="2.0" fill="#0c8a36"/>
<circle cx="195.86" cy="343" r="2.0" fill="#0c8a36"/>
<circle cx="205.89" cy="350.1" r="2.0" fill="#0c8a36"/>
<circle cx="215.91" cy="357.8" r="2.0" fill="#0c8a36"/>
<circle cx="225.93" cy="365.4" r="2.0" fill="#0c8a36"/>
<circle cx="235.96" cy="374.1" r="2.0" fill="#0c8a36"/>
<circle cx="245.98" cy="382.8" r="2.0" fill="#0c8a36"/>
<circle cx="256" cy="392.1" r="2.0" fill="#0c8a36"/>
<circle cx="266.02" cy="402.1" r="2.0" fill="#0c8a36"/>
<circle cx="276.05" cy="412.3" r="2.0" fill="#0c8a36"/>
<circle cx="286.07" cy="422.6" r="2.0" fill="#0c8a36"/>
<circle cx="296.09" cy="434.5" r="2.0" fill="#0c8a36"/>
<circle cx="306.12" cy="444.2" r="2.0" fill="#0c8a36"/>
<circle cx="316.14" cy="453.6" r="2.0" fill="#0c8a36"/>
<circle cx="326.16" cy="462.2" r="2.0" fill="#0c8a36"/>
<circle cx="336.19" cy="470.6" r="2.0" fill="#0c8a36"/>
<rect x="40.5" y="270.3" width="300.7" height="210.39999999999998" fill="none" stroke="#222222" stroke-width="1.2"/>
<text x="38.2" y="480.8" font-size="14" text-anchor="end" fill="#000" font-family='"Liberation Serif", serif' stroke="#000" stroke-width="0.22">0</text>
<text x="38.2" y="441" font-size="14" text-anchor="end" fill="#000" font-family='"Liberation Serif", serif' stroke="#000" stroke-width="0.22">0.2</text>
<text x="38.2" y="401.2" font-size="14" text-anchor="end" fill="#000" font-family='"Liberation Serif", serif' stroke="#000" stroke-width="0.22">0.4</text>
<text x="38.2" y="361.4" font-size="14" text-anchor="end" fill="#000" font-family='"Liberation Serif", serif' stroke="#000" stroke-width="0.22">0.6</text>
<text x="38.2" y="321.6" font-size="14" text-anchor="end" fill="#000" font-family='"Liberation Serif", serif' stroke="#000" stroke-width="0.22">0.8</text>
<text x="38.2" y="281.8" font-size="14" text-anchor="end" fill="#000" font-family='"Liberation Serif", serif' stroke="#000" stroke-width="0.22">1</text>
<text x="40.5" y="494.7" font-size="14" text-anchor="middle" fill="#000" font-family='"Liberation Serif", serif' stroke="#000" stroke-width="0.22">0</text>
<text x="190.85" y="494.7" font-size="14" text-anchor="middle" fill="#000" font-family='"Liberation Serif", serif' stroke="#000" stroke-width="0.22">0.25</text>
<text x="342.5" y="494.7" font-size="14" text-anchor="middle" fill="#000" font-family='"Liberation Serif", serif' stroke="#000" stroke-width="0.22">0.5</text>
<circle cx="239.9" cy="292.9" r="1.8" fill="#000000"/>
<line x1="231.5" y1="306" x2="247.4" y2="306" stroke="#000000" stroke-width="1.2"/>
<line x1="231.3" y1="318.6" x2="247" y2="318.6" stroke="#000" stroke-width="1.2" stroke-dasharray="5.4,3.4"/>
<text x="253.4" y="296.8" font-size="11.7" text-anchor="start" fill="#000" font-family='"Liberation Serif", serif' stroke="#000" stroke-width="0.22">SDPD</text>
<text x="253.4" y="309.2" font-size="11.7" text-anchor="start" fill="#000" font-family='"Liberation Serif", serif' stroke="#000" stroke-width="0.22">theory</text>
<text x="253.4" y="321.8" font-size="11.7" text-anchor="start" fill="#000" font-family='"Liberation Serif", serif' stroke="#000" stroke-width="0.22">without brush</text>
<text transform="translate(11.8,407.5) rotate(-90)" font-size="16" font-family='"Liberation Serif", serif' stroke="#000" stroke-width="0.25"><tspan x="-0.2" y="0" font-style="italic">u</tspan><tspan x="8.4" y="2.9" font-size="11">x</tspan><tspan x="16.1" y="0">(</tspan><tspan x="22.2" font-style="italic">y</tspan><tspan x="29">)</tspan><tspan x="38.6">/</tspan><tspan x="47.7" font-style="italic">u</tspan><tspan x="57.3" y="3.3" font-size="11.5">0</tspan></text>
<text y="509.2" font-size="16" font-family='"Liberation Serif", serif' stroke="#000" stroke-width="0.25"><tspan x="175.2" font-style="italic">y</tspan><tspan x="185.6">/</tspan><tspan x="195.8" font-style="italic">D</tspan></text>
<text x="8.3" y="280.8" font-size="12" text-anchor="start" fill="#000" font-family='"Liberation Sans", sans-serif' stroke="#000" stroke-width="0.22" font-weight="bold">(b)</text>
</svg>
</body></html>
